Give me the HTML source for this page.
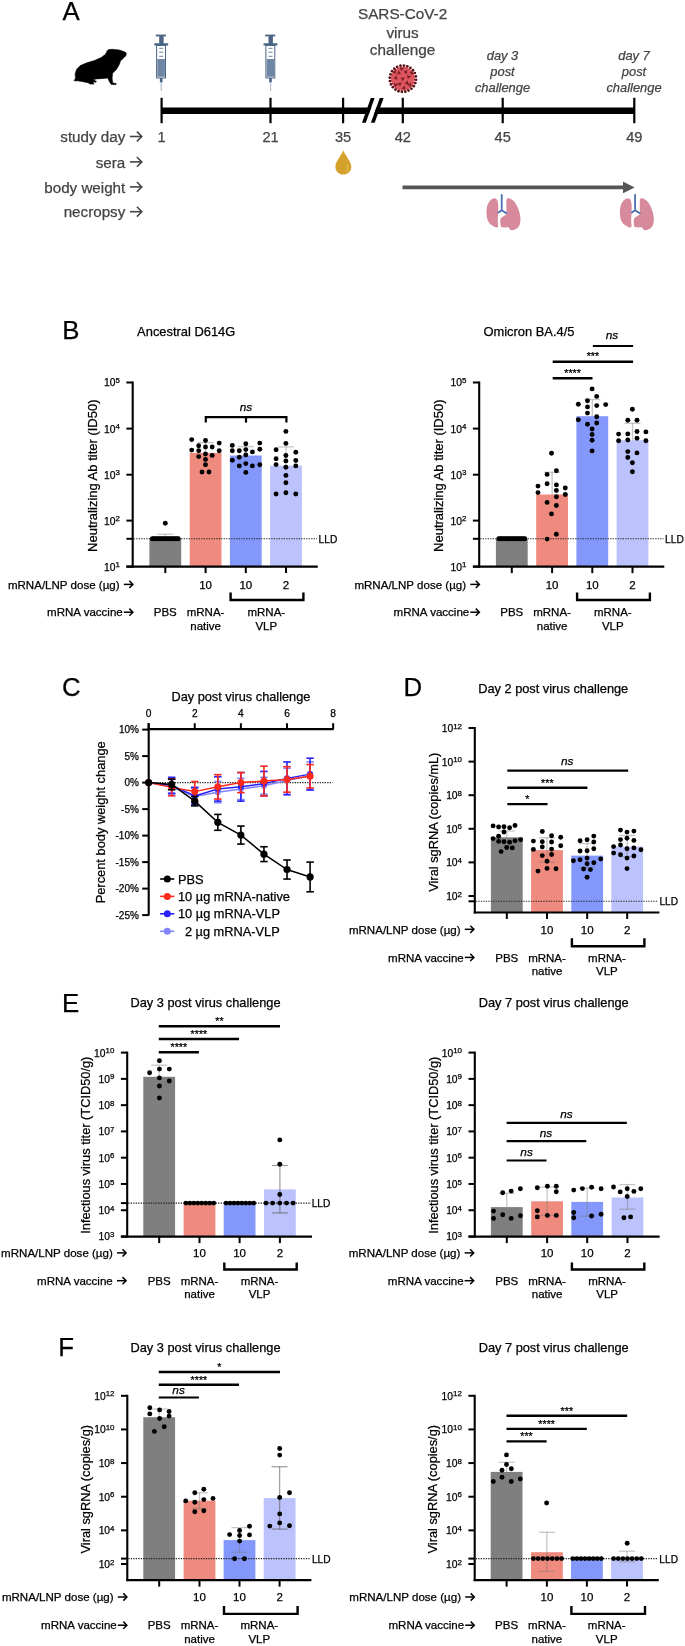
<!DOCTYPE html><html><head><meta charset="utf-8"><style>html,body{margin:0;padding:0;background:#fff;}svg{display:block;will-change:transform;} text{stroke-width:0.25px;}</style></head><body>
<svg width="685" height="1646" viewBox="0 0 685 1646" font-family='"Liberation Sans", sans-serif'>
<rect width="685" height="1646" fill="#fff"/>
<text x="62.50" y="20.40" font-size="25.8" text-anchor="start" fill="#000" stroke="#000" >A</text>
<polygon points="74.2,80.6 75.6,78.0 75.1,74.2 76.5,69.4 80.3,65.6 87.0,62.8 94.6,60.4 101.2,57.6 105.5,54.2 107.4,50.4 108.8,49.5 112.6,49.3 119.2,50.0 124.9,51.9 126.3,53.3 125.9,55.7 124.0,57.6 122.1,59.4 120.7,60.4 119.2,64.7 116.4,69.4 112.6,73.2 112.1,78.0 112.6,82.7 116.4,83.8 115.9,84.6 111.2,84.4 109.7,82.2 107.8,78.0 104.1,78.4 96.5,78.9 92.7,79.8 96.5,81.3 95.5,82.2 92.7,81.7 94.1,84.1 90.3,84.1 87.9,82.7 83.2,81.7 77.5,80.8 74.6,81.0" fill="#000" stroke="#000" stroke-width="0.6" stroke-linejoin="round"/>
<g transform="translate(0.00,0)">
<rect x="155.8" y="34.6" width="10.2" height="1.8" fill="#4a6584"/>
<rect x="159.2" y="35.5" width="4.4" height="8.5" fill="#4a6584"/>
<rect x="154.2" y="43.3" width="14" height="2.3" rx="0.6" fill="#4a6584"/>
<rect x="156.6" y="45.5" width="8.9" height="32.5" fill="#fff" stroke="#4a6584" stroke-width="1"/>
<rect x="157.3" y="59" width="7.6" height="17.8" fill="#6f87a5"/>
<rect x="159.2" y="47.8" width="4" height="1" fill="#6f87a5"/>
<rect x="159.2" y="51.7" width="4" height="1" fill="#6f87a5"/>
<rect x="159.2" y="55.8" width="4" height="1" fill="#6f87a5"/>
<rect x="159.9" y="78" width="2.6" height="4.4" fill="#4a6584"/>
<rect x="160.6" y="82.3" width="1.3" height="8.7" fill="#b4c2d2"/>
</g>
<g transform="translate(109.30,0)">
<rect x="155.8" y="34.6" width="10.2" height="1.8" fill="#4a6584"/>
<rect x="159.2" y="35.5" width="4.4" height="8.5" fill="#4a6584"/>
<rect x="154.2" y="43.3" width="14" height="2.3" rx="0.6" fill="#4a6584"/>
<rect x="156.6" y="45.5" width="8.9" height="32.5" fill="#fff" stroke="#4a6584" stroke-width="1"/>
<rect x="157.3" y="59" width="7.6" height="17.8" fill="#6f87a5"/>
<rect x="159.2" y="47.8" width="4" height="1" fill="#6f87a5"/>
<rect x="159.2" y="51.7" width="4" height="1" fill="#6f87a5"/>
<rect x="159.2" y="55.8" width="4" height="1" fill="#6f87a5"/>
<rect x="159.9" y="78" width="2.6" height="4.4" fill="#4a6584"/>
<rect x="160.6" y="82.3" width="1.3" height="8.7" fill="#b4c2d2"/>
</g>
<line x1="161.30" y1="110.75" x2="634.30" y2="110.75" stroke="#000" stroke-width="6.3" />
<line x1="161.60" y1="97.80" x2="161.60" y2="123.20" stroke="#000" stroke-width="2.2" />
<line x1="270.50" y1="97.80" x2="270.50" y2="123.20" stroke="#000" stroke-width="2.2" />
<line x1="343.10" y1="97.80" x2="343.10" y2="123.20" stroke="#000" stroke-width="2.2" />
<line x1="402.80" y1="97.80" x2="402.80" y2="123.20" stroke="#000" stroke-width="2.2" />
<line x1="502.70" y1="97.80" x2="502.70" y2="123.20" stroke="#000" stroke-width="2.2" />
<line x1="634.30" y1="97.80" x2="634.30" y2="123.20" stroke="#000" stroke-width="2.2" />
<polygon points="365.8,122.7 370.9,122.7 379.8,98.1 374.6,98.1" fill="#fff"/>
<polygon points="362,122.7 365.8,122.7 374.6,98.1 370.8,98.1" fill="#000"/>
<polygon points="370.9,122.7 374.7,122.7 383.6,98.1 379.8,98.1" fill="#000"/>
<text x="161.60" y="141.90" font-size="14.6" text-anchor="middle" fill="#444" stroke="#444" >1</text>
<text x="270.50" y="141.90" font-size="14.6" text-anchor="middle" fill="#444" stroke="#444" >21</text>
<text x="343.10" y="141.90" font-size="14.6" text-anchor="middle" fill="#444" stroke="#444" >35</text>
<text x="402.80" y="141.90" font-size="14.6" text-anchor="middle" fill="#444" stroke="#444" >42</text>
<text x="502.70" y="141.90" font-size="14.6" text-anchor="middle" fill="#444" stroke="#444" >45</text>
<text x="634.30" y="141.90" font-size="14.6" text-anchor="middle" fill="#444" stroke="#444" >49</text>
<text x="125.30" y="142.10" font-size="15.2" text-anchor="end" fill="#444" stroke="#444" >study day</text>
<line x1="129.90" y1="136.50" x2="141.30" y2="136.50" stroke="#444" stroke-width="1.6" />
<polyline points="136.90,131.60 141.80,136.50 136.90,141.40" fill="none" stroke="#444" stroke-width="1.6" stroke-linejoin="miter"/>
<text x="125.30" y="167.50" font-size="15.2" text-anchor="end" fill="#444" stroke="#444" >sera</text>
<line x1="129.90" y1="161.90" x2="141.30" y2="161.90" stroke="#444" stroke-width="1.6" />
<polyline points="136.90,157.00 141.80,161.90 136.90,166.80" fill="none" stroke="#444" stroke-width="1.6" stroke-linejoin="miter"/>
<text x="125.30" y="192.50" font-size="15.2" text-anchor="end" fill="#444" stroke="#444" >body weight</text>
<line x1="129.90" y1="186.90" x2="141.30" y2="186.90" stroke="#444" stroke-width="1.6" />
<polyline points="136.90,182.00 141.80,186.90 136.90,191.80" fill="none" stroke="#444" stroke-width="1.6" stroke-linejoin="miter"/>
<text x="125.30" y="217.30" font-size="15.2" text-anchor="end" fill="#444" stroke="#444" >necropsy</text>
<line x1="129.90" y1="211.70" x2="141.30" y2="211.70" stroke="#444" stroke-width="1.6" />
<polyline points="136.90,206.80 141.80,211.70 136.90,216.60" fill="none" stroke="#444" stroke-width="1.6" stroke-linejoin="miter"/>
<text x="402.60" y="19.40" font-size="15.3" text-anchor="middle" fill="#444" stroke="#444" >SARS-CoV-2</text>
<text x="402.60" y="37.60" font-size="15.3" text-anchor="middle" fill="#444" stroke="#444" >virus</text>
<text x="402.60" y="55.20" font-size="15.3" text-anchor="middle" fill="#444" stroke="#444" >challenge</text>
<text x="502.50" y="60.30" font-size="12.9" text-anchor="middle" fill="#444" stroke="#444" font-style="italic" >day 3</text>
<text x="502.50" y="76.00" font-size="12.9" text-anchor="middle" fill="#444" stroke="#444" font-style="italic" >post</text>
<text x="502.50" y="91.50" font-size="12.9" text-anchor="middle" fill="#444" stroke="#444" font-style="italic" >challenge</text>
<text x="634.00" y="60.30" font-size="12.9" text-anchor="middle" fill="#444" stroke="#444" font-style="italic" >day 7</text>
<text x="634.00" y="76.00" font-size="12.9" text-anchor="middle" fill="#444" stroke="#444" font-style="italic" >post</text>
<text x="634.00" y="91.50" font-size="12.9" text-anchor="middle" fill="#444" stroke="#444" font-style="italic" >challenge</text>
<circle cx="402.9" cy="78.7" r="12" fill="#e05660"/>
<line x1="414.07" y1="79.58" x2="415.86" y2="79.72" stroke="#7a2026" stroke-width="0.8"/><circle cx="416.06" cy="79.74" r="1.35" fill="#5a1014"/><line x1="413.46" y1="82.44" x2="415.15" y2="83.04" stroke="#7a2026" stroke-width="0.8"/><circle cx="415.34" cy="83.11" r="1.35" fill="#5a1014"/><line x1="412.13" y1="85.04" x2="413.61" y2="86.06" stroke="#7a2026" stroke-width="0.8"/><circle cx="413.78" cy="86.18" r="1.35" fill="#5a1014"/><line x1="410.17" y1="87.22" x2="411.34" y2="88.59" stroke="#7a2026" stroke-width="0.8"/><circle cx="411.47" cy="88.74" r="1.35" fill="#5a1014"/><line x1="407.72" y1="88.81" x2="408.50" y2="90.43" stroke="#7a2026" stroke-width="0.8"/><circle cx="408.58" cy="90.61" r="1.35" fill="#5a1014"/><line x1="404.94" y1="89.71" x2="405.27" y2="91.48" stroke="#7a2026" stroke-width="0.8"/><circle cx="405.31" cy="91.68" r="1.35" fill="#5a1014"/><line x1="402.02" y1="89.87" x2="401.88" y2="91.66" stroke="#7a2026" stroke-width="0.8"/><circle cx="401.86" cy="91.86" r="1.35" fill="#5a1014"/><line x1="399.16" y1="89.26" x2="398.56" y2="90.95" stroke="#7a2026" stroke-width="0.8"/><circle cx="398.49" cy="91.14" r="1.35" fill="#5a1014"/><line x1="396.56" y1="87.93" x2="395.54" y2="89.41" stroke="#7a2026" stroke-width="0.8"/><circle cx="395.42" cy="89.58" r="1.35" fill="#5a1014"/><line x1="394.38" y1="85.97" x2="393.01" y2="87.14" stroke="#7a2026" stroke-width="0.8"/><circle cx="392.86" cy="87.27" r="1.35" fill="#5a1014"/><line x1="392.79" y1="83.52" x2="391.17" y2="84.30" stroke="#7a2026" stroke-width="0.8"/><circle cx="390.99" cy="84.38" r="1.35" fill="#5a1014"/><line x1="391.89" y1="80.74" x2="390.12" y2="81.07" stroke="#7a2026" stroke-width="0.8"/><circle cx="389.92" cy="81.11" r="1.35" fill="#5a1014"/><line x1="391.73" y1="77.82" x2="389.94" y2="77.68" stroke="#7a2026" stroke-width="0.8"/><circle cx="389.74" cy="77.66" r="1.35" fill="#5a1014"/><line x1="392.34" y1="74.96" x2="390.65" y2="74.36" stroke="#7a2026" stroke-width="0.8"/><circle cx="390.46" cy="74.29" r="1.35" fill="#5a1014"/><line x1="393.67" y1="72.36" x2="392.19" y2="71.34" stroke="#7a2026" stroke-width="0.8"/><circle cx="392.02" cy="71.22" r="1.35" fill="#5a1014"/><line x1="395.63" y1="70.18" x2="394.46" y2="68.81" stroke="#7a2026" stroke-width="0.8"/><circle cx="394.33" cy="68.66" r="1.35" fill="#5a1014"/><line x1="398.08" y1="68.59" x2="397.30" y2="66.97" stroke="#7a2026" stroke-width="0.8"/><circle cx="397.22" cy="66.79" r="1.35" fill="#5a1014"/><line x1="400.86" y1="67.69" x2="400.53" y2="65.92" stroke="#7a2026" stroke-width="0.8"/><circle cx="400.49" cy="65.72" r="1.35" fill="#5a1014"/><line x1="403.78" y1="67.53" x2="403.92" y2="65.74" stroke="#7a2026" stroke-width="0.8"/><circle cx="403.94" cy="65.54" r="1.35" fill="#5a1014"/><line x1="406.64" y1="68.14" x2="407.24" y2="66.45" stroke="#7a2026" stroke-width="0.8"/><circle cx="407.31" cy="66.26" r="1.35" fill="#5a1014"/><line x1="409.24" y1="69.47" x2="410.26" y2="67.99" stroke="#7a2026" stroke-width="0.8"/><circle cx="410.38" cy="67.82" r="1.35" fill="#5a1014"/><line x1="411.42" y1="71.43" x2="412.79" y2="70.26" stroke="#7a2026" stroke-width="0.8"/><circle cx="412.94" cy="70.13" r="1.35" fill="#5a1014"/><line x1="413.01" y1="73.88" x2="414.63" y2="73.10" stroke="#7a2026" stroke-width="0.8"/><circle cx="414.81" cy="73.02" r="1.35" fill="#5a1014"/><line x1="413.91" y1="76.66" x2="415.68" y2="76.33" stroke="#7a2026" stroke-width="0.8"/><circle cx="415.88" cy="76.29" r="1.35" fill="#5a1014"/>
<polygon points="396.80,74.40 401.10,74.10 398.90,70.30" fill="#6e1a22" opacity="0.85" transform="rotate(0 398.90 72.70)"/>
<polygon points="403.80,73.40 408.10,73.10 405.90,69.30" fill="#6e1a22" opacity="0.85" transform="rotate(40 405.90 71.70)"/>
<polygon points="406.80,78.40 411.10,78.10 408.90,74.30" fill="#6e1a22" opacity="0.85" transform="rotate(80 408.90 76.70)"/>
<polygon points="393.80,79.40 398.10,79.10 395.90,75.30" fill="#6e1a22" opacity="0.85" transform="rotate(20 395.90 77.70)"/>
<polygon points="400.80,80.40 405.10,80.10 402.90,76.30" fill="#6e1a22" opacity="0.85" transform="rotate(60 402.90 78.70)"/>
<polygon points="404.80,84.40 409.10,84.10 406.90,80.30" fill="#6e1a22" opacity="0.85" transform="rotate(10 406.90 82.70)"/>
<polygon points="397.80,85.40 402.10,85.10 399.90,81.30" fill="#6e1a22" opacity="0.85" transform="rotate(50 399.90 83.70)"/>
<polygon points="407.80,86.40 412.10,86.10 409.90,82.30" fill="#6e1a22" opacity="0.85" transform="rotate(30 409.90 84.70)"/>
<polygon points="393.80,86.40 398.10,86.10 395.90,82.30" fill="#6e1a22" opacity="0.85" transform="rotate(70 395.90 84.70)"/>
<polygon points="401.80,89.40 406.10,89.10 403.90,85.30" fill="#6e1a22" opacity="0.85" transform="rotate(15 403.90 87.70)"/>
<polygon points="409.80,74.40 414.10,74.10 411.90,70.30" fill="#6e1a22" opacity="0.85" transform="rotate(45 411.90 72.70)"/>
<polygon points="392.80,73.40 397.10,73.10 394.90,69.30" fill="#6e1a22" opacity="0.85" transform="rotate(25 394.90 71.70)"/>
<polygon points="399.80,70.40 404.10,70.10 401.90,66.30" fill="#6e1a22" opacity="0.85" transform="rotate(65 401.90 68.70)"/>
<path d="M343.3,150.2 C345.5,156 351.3,161.5 351.3,166.8 C351.3,171.5 347.6,174.6 343.3,174.6 C339,174.6 335.4,171.5 335.4,166.8 C335.4,161.5 341.1,156 343.3,150.2 Z" fill="#d4a22a"/>
<path d="M347.5,165 C348.3,167.5 347.6,170.5 345.6,172" stroke="#f0d080" stroke-width="0.9" fill="none" opacity="0.8"/>
<line x1="402.50" y1="187.40" x2="624.00" y2="187.40" stroke="#555" stroke-width="3.7" />
<polygon points="623,181.5 634.6,187.4 623,193.2" fill="#555"/>
<g transform="translate(0.00,0)">
<path d="M494.9,198.3 C496.5,198.6 497.6,200 498,203 C498.6,208 498.2,213 497.8,218.2 C497.6,222 498.3,225 498.1,226.8 C497.6,227.8 496.6,227.6 496.1,227.4 C493,226.4 490.4,224.8 488.6,222 C486.6,219 486.3,214 486.6,209.4 C487,204.8 489,200.8 492,199 C493,198.5 494,198.3 494.9,198.3 Z" fill="#d68a9b"/>
<path d="M507.8,198 C510.5,198.3 513,200 515,202.5 C517.6,206 519.4,211 520.2,216 C520.8,220.5 520.3,224 518.8,226.4 C516.8,229 513.6,230.4 511.4,230.2 C509.8,229.8 508.9,228.6 508.5,227 C506.8,227.3 503,228 501,226.8 C500.2,224 500,220.6 500.6,218.7 C502.2,216.6 504.8,215.3 506.6,214.4 C506.4,210 506.2,205 506.4,201.5 C506.6,199.4 507,198.4 507.8,198 Z" fill="#d68a9b"/>
<path d="M501.7,194.8 L501.7,210.3 M501.7,210.3 L498.4,212.5 M501.7,210.3 L506.4,213.3" stroke="#4a6fb0" stroke-width="1.8" fill="none" stroke-linecap="round"/>
</g>
<g transform="translate(133.40,0)">
<path d="M494.9,198.3 C496.5,198.6 497.6,200 498,203 C498.6,208 498.2,213 497.8,218.2 C497.6,222 498.3,225 498.1,226.8 C497.6,227.8 496.6,227.6 496.1,227.4 C493,226.4 490.4,224.8 488.6,222 C486.6,219 486.3,214 486.6,209.4 C487,204.8 489,200.8 492,199 C493,198.5 494,198.3 494.9,198.3 Z" fill="#d68a9b"/>
<path d="M507.8,198 C510.5,198.3 513,200 515,202.5 C517.6,206 519.4,211 520.2,216 C520.8,220.5 520.3,224 518.8,226.4 C516.8,229 513.6,230.4 511.4,230.2 C509.8,229.8 508.9,228.6 508.5,227 C506.8,227.3 503,228 501,226.8 C500.2,224 500,220.6 500.6,218.7 C502.2,216.6 504.8,215.3 506.6,214.4 C506.4,210 506.2,205 506.4,201.5 C506.6,199.4 507,198.4 507.8,198 Z" fill="#d68a9b"/>
<path d="M501.7,194.8 L501.7,210.3 M501.7,210.3 L498.4,212.5 M501.7,210.3 L506.4,213.3" stroke="#4a6fb0" stroke-width="1.8" fill="none" stroke-linecap="round"/>
</g>
<text x="62.30" y="338.60" font-size="25.8" text-anchor="start" fill="#000" stroke="#000" >B</text>
<text x="186.20" y="335.50" font-size="12.9" text-anchor="middle" fill="#000" stroke="#000" >Ancestral D614G</text>
<rect x="149.40" y="538.80" width="31.80" height="27.80" fill="#7f7f7f"/>
<rect x="189.70" y="452.90" width="31.80" height="113.70" fill="#ef8a7e"/>
<rect x="229.90" y="455.50" width="31.80" height="111.10" fill="#8398fa"/>
<rect x="270.10" y="465.70" width="31.80" height="100.90" fill="#bcc2fb"/>
<line x1="132.70" y1="381.50" x2="132.70" y2="567.60" stroke="#000" stroke-width="2.1" />
<line x1="126.40" y1="566.60" x2="317.80" y2="566.60" stroke="#000" stroke-width="2.1" />
<line x1="126.40" y1="382.50" x2="132.70" y2="382.50" stroke="#000" stroke-width="2.0" />
<text x="119.90" y="386.40" font-size="10.3" text-anchor="end" stroke="#000">10<tspan dy="-3.3" font-size="7.93">5</tspan></text>
<line x1="126.40" y1="428.60" x2="132.70" y2="428.60" stroke="#000" stroke-width="2.0" />
<text x="119.90" y="432.50" font-size="10.3" text-anchor="end" stroke="#000">10<tspan dy="-3.3" font-size="7.93">4</tspan></text>
<line x1="126.40" y1="474.70" x2="132.70" y2="474.70" stroke="#000" stroke-width="2.0" />
<text x="119.90" y="478.60" font-size="10.3" text-anchor="end" stroke="#000">10<tspan dy="-3.3" font-size="7.93">3</tspan></text>
<line x1="126.40" y1="520.60" x2="132.70" y2="520.60" stroke="#000" stroke-width="2.0" />
<text x="119.90" y="524.50" font-size="10.3" text-anchor="end" stroke="#000">10<tspan dy="-3.3" font-size="7.93">2</tspan></text>
<line x1="126.40" y1="566.60" x2="132.70" y2="566.60" stroke="#000" stroke-width="2.0" />
<text x="119.90" y="570.50" font-size="10.3" text-anchor="end" stroke="#000">10<tspan dy="-3.3" font-size="7.93">1</tspan></text>
<line x1="165.30" y1="566.60" x2="165.30" y2="573.10" stroke="#000" stroke-width="2.0" />
<line x1="205.60" y1="566.60" x2="205.60" y2="573.10" stroke="#000" stroke-width="2.0" />
<line x1="245.80" y1="566.60" x2="245.80" y2="573.10" stroke="#000" stroke-width="2.0" />
<line x1="286.00" y1="566.60" x2="286.00" y2="573.10" stroke="#000" stroke-width="2.0" />
<line x1="126.40" y1="538.80" x2="132.70" y2="538.80" stroke="#000" stroke-width="2.0" />
<line x1="133.70" y1="538.80" x2="317.00" y2="538.80" stroke="#222" stroke-width="1.1" stroke-dasharray="1.3,1.2"/>
<text x="318.60" y="542.90" font-size="10.2" text-anchor="start" fill="#000" stroke="#000" >LLD</text>
<text transform="translate(96.80,475.70) rotate(-90)" font-size="13.0" text-anchor="middle" stroke="#000">Neutralizing Ab titer (ID50)</text>
<line x1="165.30" y1="534.20" x2="165.30" y2="538.80" stroke="#7a7a7a" stroke-width="1.3"  stroke-opacity="0.42"/>
<line x1="157.30" y1="534.20" x2="173.30" y2="534.20" stroke="#7a7a7a" stroke-width="1.3"  stroke-opacity="0.42"/>
<line x1="205.60" y1="442.60" x2="205.60" y2="452.90" stroke="#7a7a7a" stroke-width="1.3"  stroke-opacity="0.42"/>
<line x1="197.60" y1="442.60" x2="213.60" y2="442.60" stroke="#7a7a7a" stroke-width="1.3"  stroke-opacity="0.42"/>
<line x1="245.80" y1="446.60" x2="245.80" y2="455.50" stroke="#7a7a7a" stroke-width="1.3"  stroke-opacity="0.42"/>
<line x1="237.80" y1="446.60" x2="253.80" y2="446.60" stroke="#7a7a7a" stroke-width="1.3"  stroke-opacity="0.42"/>
<line x1="286.00" y1="446.90" x2="286.00" y2="465.70" stroke="#7a7a7a" stroke-width="1.3"  stroke-opacity="0.42"/>
<line x1="278.00" y1="446.90" x2="294.00" y2="446.90" stroke="#7a7a7a" stroke-width="1.3"  stroke-opacity="0.42"/>
<circle cx="191.70" cy="439.60" r="2.45" fill="#000"/>
<circle cx="205.50" cy="440.50" r="2.45" fill="#000"/>
<circle cx="219.20" cy="443.10" r="2.45" fill="#000"/>
<circle cx="198.70" cy="445.80" r="2.45" fill="#000"/>
<circle cx="205.50" cy="447.00" r="2.45" fill="#000"/>
<circle cx="212.20" cy="447.00" r="2.45" fill="#000"/>
<circle cx="191.70" cy="450.10" r="2.45" fill="#000"/>
<circle cx="198.70" cy="450.70" r="2.45" fill="#000"/>
<circle cx="219.20" cy="450.70" r="2.45" fill="#000"/>
<circle cx="205.50" cy="454.00" r="2.45" fill="#000"/>
<circle cx="198.70" cy="456.60" r="2.45" fill="#000"/>
<circle cx="212.20" cy="455.40" r="2.45" fill="#000"/>
<circle cx="205.50" cy="459.40" r="2.45" fill="#000"/>
<circle cx="205.50" cy="464.70" r="2.45" fill="#000"/>
<circle cx="202.00" cy="472.00" r="2.45" fill="#000"/>
<circle cx="209.00" cy="472.00" r="2.45" fill="#000"/>
<circle cx="245.80" cy="443.70" r="2.45" fill="#000"/>
<circle cx="259.80" cy="443.10" r="2.45" fill="#000"/>
<circle cx="232.30" cy="445.40" r="2.45" fill="#000"/>
<circle cx="232.30" cy="450.70" r="2.45" fill="#000"/>
<circle cx="239.30" cy="450.70" r="2.45" fill="#000"/>
<circle cx="245.80" cy="449.60" r="2.45" fill="#000"/>
<circle cx="252.40" cy="451.90" r="2.45" fill="#000"/>
<circle cx="259.80" cy="449.30" r="2.45" fill="#000"/>
<circle cx="245.80" cy="455.00" r="2.45" fill="#000"/>
<circle cx="239.30" cy="457.20" r="2.45" fill="#000"/>
<circle cx="232.30" cy="460.30" r="2.45" fill="#000"/>
<circle cx="245.80" cy="463.60" r="2.45" fill="#000"/>
<circle cx="239.30" cy="465.90" r="2.45" fill="#000"/>
<circle cx="252.40" cy="465.90" r="2.45" fill="#000"/>
<circle cx="259.80" cy="464.70" r="2.45" fill="#000"/>
<circle cx="245.80" cy="472.40" r="2.45" fill="#000"/>
<circle cx="285.90" cy="431.40" r="2.45" fill="#000"/>
<circle cx="285.90" cy="443.40" r="2.45" fill="#000"/>
<circle cx="276.10" cy="449.70" r="2.45" fill="#000"/>
<circle cx="295.80" cy="452.20" r="2.45" fill="#000"/>
<circle cx="285.90" cy="455.50" r="2.45" fill="#000"/>
<circle cx="276.10" cy="458.70" r="2.45" fill="#000"/>
<circle cx="285.90" cy="460.90" r="2.45" fill="#000"/>
<circle cx="295.80" cy="460.50" r="2.45" fill="#000"/>
<circle cx="276.10" cy="464.60" r="2.45" fill="#000"/>
<circle cx="295.80" cy="465.90" r="2.45" fill="#000"/>
<circle cx="285.90" cy="467.30" r="2.45" fill="#000"/>
<circle cx="285.90" cy="475.40" r="2.45" fill="#000"/>
<circle cx="285.90" cy="482.70" r="2.45" fill="#000"/>
<circle cx="276.10" cy="494.00" r="2.45" fill="#000"/>
<circle cx="285.90" cy="492.70" r="2.45" fill="#000"/>
<circle cx="295.80" cy="494.00" r="2.45" fill="#000"/>
<circle cx="152.30" cy="538.80" r="2.45" fill="#000"/>
<circle cx="153.83" cy="538.80" r="2.45" fill="#000"/>
<circle cx="155.36" cy="538.80" r="2.45" fill="#000"/>
<circle cx="156.89" cy="538.80" r="2.45" fill="#000"/>
<circle cx="158.42" cy="538.80" r="2.45" fill="#000"/>
<circle cx="159.95" cy="538.80" r="2.45" fill="#000"/>
<circle cx="161.48" cy="538.80" r="2.45" fill="#000"/>
<circle cx="163.01" cy="538.80" r="2.45" fill="#000"/>
<circle cx="164.54" cy="538.80" r="2.45" fill="#000"/>
<circle cx="166.07" cy="538.80" r="2.45" fill="#000"/>
<circle cx="167.60" cy="538.80" r="2.45" fill="#000"/>
<circle cx="169.13" cy="538.80" r="2.45" fill="#000"/>
<circle cx="170.66" cy="538.80" r="2.45" fill="#000"/>
<circle cx="172.19" cy="538.80" r="2.45" fill="#000"/>
<circle cx="173.72" cy="538.80" r="2.45" fill="#000"/>
<circle cx="175.25" cy="538.80" r="2.45" fill="#000"/>
<circle cx="176.78" cy="538.80" r="2.45" fill="#000"/>
<circle cx="178.31" cy="538.80" r="2.45" fill="#000"/>
<circle cx="165.30" cy="523.30" r="2.45" fill="#000"/>
<text x="119.60" y="588.60" font-size="11.55" text-anchor="end" fill="#000" stroke="#000" >mRNA/LNP dose (µg)</text>
<line x1="123.80" y1="584.40" x2="132.40" y2="584.40" stroke="#000" stroke-width="1.5" />
<polyline points="129.30,580.80 132.90,584.40 129.30,588.00" fill="none" stroke="#000" stroke-width="1.5" stroke-linejoin="miter"/>
<text x="205.60" y="588.60" font-size="11.5" text-anchor="middle" fill="#000" stroke="#000" >10</text>
<text x="245.80" y="588.60" font-size="11.5" text-anchor="middle" fill="#000" stroke="#000" >10</text>
<text x="286.00" y="588.60" font-size="11.5" text-anchor="middle" fill="#000" stroke="#000" >2</text>
<polyline points="230.60,592.40 230.60,600.00 303.40,600.00 303.40,592.40" fill="none" stroke="#000" stroke-width="2.4" stroke-linejoin="miter"/>
<text x="122.80" y="616.40" font-size="11.55" text-anchor="end" fill="#000" stroke="#000" >mRNA vaccine</text>
<line x1="123.80" y1="612.20" x2="132.40" y2="612.20" stroke="#000" stroke-width="1.5" />
<polyline points="129.30,608.60 132.90,612.20 129.30,615.80" fill="none" stroke="#000" stroke-width="1.5" stroke-linejoin="miter"/>
<text x="165.30" y="616.40" font-size="11.5" text-anchor="middle" fill="#000" stroke="#000" >PBS</text>
<text x="205.60" y="616.40" font-size="11.5" text-anchor="middle" fill="#000" stroke="#000" >mRNA-</text>
<text x="205.60" y="629.70" font-size="11.5" text-anchor="middle" fill="#000" stroke="#000" >native</text>
<text x="266.30" y="616.40" font-size="11.5" text-anchor="middle" fill="#000" stroke="#000" >mRNA-</text>
<text x="266.30" y="629.70" font-size="11.5" text-anchor="middle" fill="#000" stroke="#000" >VLP</text>
<polyline points="205.80,422.60 205.80,417.10 286.40,417.10 286.40,422.60" fill="none" stroke="#000" stroke-width="2.2" />
<line x1="246.00" y1="417.10" x2="246.00" y2="422.60" stroke="#000" stroke-width="2.2" />
<text x="246.00" y="410.60" font-size="11.8" text-anchor="middle" fill="#000" stroke="#000" font-style="italic" >ns</text>
<text x="528.90" y="335.50" font-size="12.9" text-anchor="middle" fill="#000" stroke="#000" >Omicron BA.4/5</text>
<rect x="495.90" y="538.80" width="31.80" height="27.80" fill="#7f7f7f"/>
<rect x="536.20" y="494.50" width="31.80" height="72.10" fill="#ef8a7e"/>
<rect x="576.40" y="416.20" width="31.80" height="150.40" fill="#8398fa"/>
<rect x="616.60" y="440.20" width="31.80" height="126.40" fill="#bcc2fb"/>
<line x1="479.20" y1="381.50" x2="479.20" y2="567.60" stroke="#000" stroke-width="2.1" />
<line x1="472.90" y1="566.60" x2="664.30" y2="566.60" stroke="#000" stroke-width="2.1" />
<line x1="472.90" y1="382.50" x2="479.20" y2="382.50" stroke="#000" stroke-width="2.0" />
<text x="466.40" y="386.40" font-size="10.3" text-anchor="end" stroke="#000">10<tspan dy="-3.3" font-size="7.93">5</tspan></text>
<line x1="472.90" y1="428.60" x2="479.20" y2="428.60" stroke="#000" stroke-width="2.0" />
<text x="466.40" y="432.50" font-size="10.3" text-anchor="end" stroke="#000">10<tspan dy="-3.3" font-size="7.93">4</tspan></text>
<line x1="472.90" y1="474.70" x2="479.20" y2="474.70" stroke="#000" stroke-width="2.0" />
<text x="466.40" y="478.60" font-size="10.3" text-anchor="end" stroke="#000">10<tspan dy="-3.3" font-size="7.93">3</tspan></text>
<line x1="472.90" y1="520.60" x2="479.20" y2="520.60" stroke="#000" stroke-width="2.0" />
<text x="466.40" y="524.50" font-size="10.3" text-anchor="end" stroke="#000">10<tspan dy="-3.3" font-size="7.93">2</tspan></text>
<line x1="472.90" y1="566.60" x2="479.20" y2="566.60" stroke="#000" stroke-width="2.0" />
<text x="466.40" y="570.50" font-size="10.3" text-anchor="end" stroke="#000">10<tspan dy="-3.3" font-size="7.93">1</tspan></text>
<line x1="511.80" y1="566.60" x2="511.80" y2="573.10" stroke="#000" stroke-width="2.0" />
<line x1="552.10" y1="566.60" x2="552.10" y2="573.10" stroke="#000" stroke-width="2.0" />
<line x1="592.30" y1="566.60" x2="592.30" y2="573.10" stroke="#000" stroke-width="2.0" />
<line x1="632.50" y1="566.60" x2="632.50" y2="573.10" stroke="#000" stroke-width="2.0" />
<line x1="472.90" y1="538.80" x2="479.20" y2="538.80" stroke="#000" stroke-width="2.0" />
<line x1="480.20" y1="538.80" x2="663.50" y2="538.80" stroke="#222" stroke-width="1.1" stroke-dasharray="1.3,1.2"/>
<text x="665.10" y="542.90" font-size="10.2" text-anchor="start" fill="#000" stroke="#000" >LLD</text>
<text transform="translate(443.30,475.70) rotate(-90)" font-size="13.0" text-anchor="middle" stroke="#000">Neutralizing Ab titer (ID50)</text>
<line x1="552.10" y1="472.30" x2="552.10" y2="494.50" stroke="#7a7a7a" stroke-width="1.3"  stroke-opacity="0.42"/>
<line x1="544.10" y1="472.30" x2="560.10" y2="472.30" stroke="#7a7a7a" stroke-width="1.3"  stroke-opacity="0.42"/>
<line x1="592.30" y1="399.50" x2="592.30" y2="416.20" stroke="#7a7a7a" stroke-width="1.3"  stroke-opacity="0.42"/>
<line x1="584.30" y1="399.50" x2="600.30" y2="399.50" stroke="#7a7a7a" stroke-width="1.3"  stroke-opacity="0.42"/>
<line x1="632.50" y1="423.40" x2="632.50" y2="440.20" stroke="#7a7a7a" stroke-width="1.3"  stroke-opacity="0.42"/>
<line x1="624.50" y1="423.40" x2="640.50" y2="423.40" stroke="#7a7a7a" stroke-width="1.3"  stroke-opacity="0.42"/>
<circle cx="551.50" cy="453.20" r="2.45" fill="#000"/>
<circle cx="547.10" cy="474.40" r="2.45" fill="#000"/>
<circle cx="556.40" cy="470.70" r="2.45" fill="#000"/>
<circle cx="538.00" cy="486.10" r="2.45" fill="#000"/>
<circle cx="547.10" cy="483.80" r="2.45" fill="#000"/>
<circle cx="556.40" cy="484.90" r="2.45" fill="#000"/>
<circle cx="565.30" cy="488.00" r="2.45" fill="#000"/>
<circle cx="538.00" cy="492.60" r="2.45" fill="#000"/>
<circle cx="556.40" cy="490.50" r="2.45" fill="#000"/>
<circle cx="565.30" cy="494.50" r="2.45" fill="#000"/>
<circle cx="556.40" cy="496.80" r="2.45" fill="#000"/>
<circle cx="547.10" cy="502.40" r="2.45" fill="#000"/>
<circle cx="556.40" cy="505.50" r="2.45" fill="#000"/>
<circle cx="551.50" cy="513.90" r="2.45" fill="#000"/>
<circle cx="556.40" cy="534.20" r="2.45" fill="#000"/>
<circle cx="547.10" cy="539.10" r="2.45" fill="#000"/>
<circle cx="592.10" cy="388.90" r="2.45" fill="#000"/>
<circle cx="596.70" cy="396.40" r="2.45" fill="#000"/>
<circle cx="587.50" cy="400.80" r="2.45" fill="#000"/>
<circle cx="578.30" cy="404.30" r="2.45" fill="#000"/>
<circle cx="587.50" cy="406.90" r="2.45" fill="#000"/>
<circle cx="596.70" cy="405.60" r="2.45" fill="#000"/>
<circle cx="605.70" cy="404.60" r="2.45" fill="#000"/>
<circle cx="587.50" cy="413.10" r="2.45" fill="#000"/>
<circle cx="596.70" cy="416.80" r="2.45" fill="#000"/>
<circle cx="578.30" cy="419.80" r="2.45" fill="#000"/>
<circle cx="587.50" cy="424.30" r="2.45" fill="#000"/>
<circle cx="596.70" cy="423.00" r="2.45" fill="#000"/>
<circle cx="592.10" cy="429.00" r="2.45" fill="#000"/>
<circle cx="592.10" cy="434.50" r="2.45" fill="#000"/>
<circle cx="592.10" cy="440.20" r="2.45" fill="#000"/>
<circle cx="592.10" cy="450.90" r="2.45" fill="#000"/>
<circle cx="632.40" cy="409.20" r="2.45" fill="#000"/>
<circle cx="627.80" cy="420.30" r="2.45" fill="#000"/>
<circle cx="637.00" cy="420.30" r="2.45" fill="#000"/>
<circle cx="618.60" cy="434.10" r="2.45" fill="#000"/>
<circle cx="627.80" cy="433.90" r="2.45" fill="#000"/>
<circle cx="637.00" cy="431.50" r="2.45" fill="#000"/>
<circle cx="645.90" cy="431.90" r="2.45" fill="#000"/>
<circle cx="618.60" cy="440.80" r="2.45" fill="#000"/>
<circle cx="627.80" cy="440.00" r="2.45" fill="#000"/>
<circle cx="637.00" cy="438.20" r="2.45" fill="#000"/>
<circle cx="645.90" cy="440.70" r="2.45" fill="#000"/>
<circle cx="627.80" cy="451.60" r="2.45" fill="#000"/>
<circle cx="637.00" cy="452.90" r="2.45" fill="#000"/>
<circle cx="627.80" cy="457.50" r="2.45" fill="#000"/>
<circle cx="632.40" cy="462.80" r="2.45" fill="#000"/>
<circle cx="632.40" cy="471.70" r="2.45" fill="#000"/>
<circle cx="498.80" cy="538.80" r="2.45" fill="#000"/>
<circle cx="500.33" cy="538.80" r="2.45" fill="#000"/>
<circle cx="501.86" cy="538.80" r="2.45" fill="#000"/>
<circle cx="503.39" cy="538.80" r="2.45" fill="#000"/>
<circle cx="504.92" cy="538.80" r="2.45" fill="#000"/>
<circle cx="506.45" cy="538.80" r="2.45" fill="#000"/>
<circle cx="507.98" cy="538.80" r="2.45" fill="#000"/>
<circle cx="509.51" cy="538.80" r="2.45" fill="#000"/>
<circle cx="511.04" cy="538.80" r="2.45" fill="#000"/>
<circle cx="512.57" cy="538.80" r="2.45" fill="#000"/>
<circle cx="514.10" cy="538.80" r="2.45" fill="#000"/>
<circle cx="515.63" cy="538.80" r="2.45" fill="#000"/>
<circle cx="517.16" cy="538.80" r="2.45" fill="#000"/>
<circle cx="518.69" cy="538.80" r="2.45" fill="#000"/>
<circle cx="520.22" cy="538.80" r="2.45" fill="#000"/>
<circle cx="521.75" cy="538.80" r="2.45" fill="#000"/>
<circle cx="523.28" cy="538.80" r="2.45" fill="#000"/>
<circle cx="524.81" cy="538.80" r="2.45" fill="#000"/>
<text x="466.10" y="588.60" font-size="11.55" text-anchor="end" fill="#000" stroke="#000" >mRNA/LNP dose (µg)</text>
<line x1="470.30" y1="584.40" x2="478.90" y2="584.40" stroke="#000" stroke-width="1.5" />
<polyline points="475.80,580.80 479.40,584.40 475.80,588.00" fill="none" stroke="#000" stroke-width="1.5" stroke-linejoin="miter"/>
<text x="552.10" y="588.60" font-size="11.5" text-anchor="middle" fill="#000" stroke="#000" >10</text>
<text x="592.30" y="588.60" font-size="11.5" text-anchor="middle" fill="#000" stroke="#000" >10</text>
<text x="632.50" y="588.60" font-size="11.5" text-anchor="middle" fill="#000" stroke="#000" >2</text>
<polyline points="577.10,592.40 577.10,600.00 649.90,600.00 649.90,592.40" fill="none" stroke="#000" stroke-width="2.4" stroke-linejoin="miter"/>
<text x="469.30" y="616.40" font-size="11.55" text-anchor="end" fill="#000" stroke="#000" >mRNA vaccine</text>
<line x1="470.30" y1="612.20" x2="478.90" y2="612.20" stroke="#000" stroke-width="1.5" />
<polyline points="475.80,608.60 479.40,612.20 475.80,615.80" fill="none" stroke="#000" stroke-width="1.5" stroke-linejoin="miter"/>
<text x="511.80" y="616.40" font-size="11.5" text-anchor="middle" fill="#000" stroke="#000" >PBS</text>
<text x="552.10" y="616.40" font-size="11.5" text-anchor="middle" fill="#000" stroke="#000" >mRNA-</text>
<text x="552.10" y="629.70" font-size="11.5" text-anchor="middle" fill="#000" stroke="#000" >native</text>
<text x="612.80" y="616.40" font-size="11.5" text-anchor="middle" fill="#000" stroke="#000" >mRNA-</text>
<text x="612.80" y="629.70" font-size="11.5" text-anchor="middle" fill="#000" stroke="#000" >VLP</text>
<line x1="552.70" y1="378.30" x2="592.50" y2="378.30" stroke="#000" stroke-width="2.4" />
<text x="572.60" y="377.20" font-size="10.7" text-anchor="middle" fill="#000" stroke="#000" >****</text>
<line x1="552.70" y1="361.80" x2="633.10" y2="361.80" stroke="#000" stroke-width="2.4" />
<text x="592.90" y="360.40" font-size="10.7" text-anchor="middle" fill="#000" stroke="#000" >***</text>
<line x1="592.90" y1="346.00" x2="633.10" y2="346.00" stroke="#000" stroke-width="2.2" />
<text x="612.00" y="338.70" font-size="11.8" text-anchor="middle" fill="#000" stroke="#000" font-style="italic" >ns</text>
<text x="61.90" y="696.20" font-size="25.8" text-anchor="start" fill="#000" stroke="#000" >C</text>
<text x="240.90" y="700.60" font-size="12.75" text-anchor="middle" fill="#000" stroke="#000" >Day post virus challenge</text>
<line x1="147.60" y1="729.10" x2="333.60" y2="729.10" stroke="#000" stroke-width="2.1" />
<line x1="148.60" y1="729.10" x2="148.60" y2="723.20" stroke="#000" stroke-width="2.0" />
<text x="148.60" y="716.60" font-size="10.2" text-anchor="middle" fill="#000" stroke="#000" >0</text>
<line x1="194.74" y1="729.10" x2="194.74" y2="723.20" stroke="#000" stroke-width="2.0" />
<text x="194.74" y="716.60" font-size="10.2" text-anchor="middle" fill="#000" stroke="#000" >2</text>
<line x1="240.88" y1="729.10" x2="240.88" y2="723.20" stroke="#000" stroke-width="2.0" />
<text x="240.88" y="716.60" font-size="10.2" text-anchor="middle" fill="#000" stroke="#000" >4</text>
<line x1="287.02" y1="729.10" x2="287.02" y2="723.20" stroke="#000" stroke-width="2.0" />
<text x="287.02" y="716.60" font-size="10.2" text-anchor="middle" fill="#000" stroke="#000" >6</text>
<line x1="333.16" y1="729.10" x2="333.16" y2="723.20" stroke="#000" stroke-width="2.0" />
<text x="333.16" y="716.60" font-size="10.2" text-anchor="middle" fill="#000" stroke="#000" >8</text>
<line x1="148.70" y1="723.20" x2="148.70" y2="915.60" stroke="#000" stroke-width="2.1" />
<line x1="142.20" y1="729.60" x2="148.70" y2="729.60" stroke="#000" stroke-width="2.0" />
<text x="138.90" y="733.20" font-size="10.0" text-anchor="end" fill="#000" stroke="#000" >10%</text>
<line x1="142.20" y1="756.10" x2="148.70" y2="756.10" stroke="#000" stroke-width="2.0" />
<text x="138.90" y="759.70" font-size="10.0" text-anchor="end" fill="#000" stroke="#000" >5%</text>
<line x1="142.20" y1="782.60" x2="148.70" y2="782.60" stroke="#000" stroke-width="2.0" />
<text x="138.90" y="786.20" font-size="10.0" text-anchor="end" fill="#000" stroke="#000" >0%</text>
<line x1="142.20" y1="809.10" x2="148.70" y2="809.10" stroke="#000" stroke-width="2.0" />
<text x="138.90" y="812.70" font-size="10.0" text-anchor="end" fill="#000" stroke="#000" >-5%</text>
<line x1="142.20" y1="835.60" x2="148.70" y2="835.60" stroke="#000" stroke-width="2.0" />
<text x="138.90" y="839.20" font-size="10.0" text-anchor="end" fill="#000" stroke="#000" >-10%</text>
<line x1="142.20" y1="862.10" x2="148.70" y2="862.10" stroke="#000" stroke-width="2.0" />
<text x="138.90" y="865.70" font-size="10.0" text-anchor="end" fill="#000" stroke="#000" >-15%</text>
<line x1="142.20" y1="888.60" x2="148.70" y2="888.60" stroke="#000" stroke-width="2.0" />
<text x="138.90" y="892.20" font-size="10.0" text-anchor="end" fill="#000" stroke="#000" >-20%</text>
<line x1="142.20" y1="915.10" x2="148.70" y2="915.10" stroke="#000" stroke-width="2.0" />
<text x="138.90" y="918.70" font-size="10.0" text-anchor="end" fill="#000" stroke="#000" >-25%</text>
<line x1="149.70" y1="782.60" x2="332.60" y2="782.60" stroke="#222" stroke-width="1.1" stroke-dasharray="1.3,1.2"/>
<text transform="translate(105.30,822.30) rotate(-90)" font-size="12.85" text-anchor="middle" stroke="#000">Percent body weight change</text>
<line x1="171.67" y1="779.42" x2="171.67" y2="794.26" stroke="#8585fb" stroke-width="1.6" />
<line x1="167.92" y1="779.42" x2="175.42" y2="779.42" stroke="#8585fb" stroke-width="1.6" />
<line x1="167.92" y1="794.26" x2="175.42" y2="794.26" stroke="#8585fb" stroke-width="1.6" />
<line x1="194.74" y1="788.43" x2="194.74" y2="804.33" stroke="#8585fb" stroke-width="1.6" />
<line x1="190.99" y1="788.43" x2="198.49" y2="788.43" stroke="#8585fb" stroke-width="1.6" />
<line x1="190.99" y1="804.33" x2="198.49" y2="804.33" stroke="#8585fb" stroke-width="1.6" />
<line x1="217.81" y1="781.54" x2="217.81" y2="802.74" stroke="#8585fb" stroke-width="1.6" />
<line x1="214.06" y1="781.54" x2="221.56" y2="781.54" stroke="#8585fb" stroke-width="1.6" />
<line x1="214.06" y1="802.74" x2="221.56" y2="802.74" stroke="#8585fb" stroke-width="1.6" />
<line x1="240.88" y1="778.36" x2="240.88" y2="799.56" stroke="#8585fb" stroke-width="1.6" />
<line x1="237.13" y1="778.36" x2="244.63" y2="778.36" stroke="#8585fb" stroke-width="1.6" />
<line x1="237.13" y1="799.56" x2="244.63" y2="799.56" stroke="#8585fb" stroke-width="1.6" />
<line x1="263.95" y1="777.30" x2="263.95" y2="794.26" stroke="#8585fb" stroke-width="1.6" />
<line x1="260.20" y1="777.30" x2="267.70" y2="777.30" stroke="#8585fb" stroke-width="1.6" />
<line x1="260.20" y1="794.26" x2="267.70" y2="794.26" stroke="#8585fb" stroke-width="1.6" />
<line x1="287.02" y1="768.29" x2="287.02" y2="792.67" stroke="#8585fb" stroke-width="1.6" />
<line x1="283.27" y1="768.29" x2="290.77" y2="768.29" stroke="#8585fb" stroke-width="1.6" />
<line x1="283.27" y1="792.67" x2="290.77" y2="792.67" stroke="#8585fb" stroke-width="1.6" />
<line x1="310.09" y1="761.93" x2="310.09" y2="789.49" stroke="#8585fb" stroke-width="1.6" />
<line x1="306.34" y1="761.93" x2="313.84" y2="761.93" stroke="#8585fb" stroke-width="1.6" />
<line x1="306.34" y1="789.49" x2="313.84" y2="789.49" stroke="#8585fb" stroke-width="1.6" />
<polyline points="148.60,782.60 171.67,786.84 194.74,796.38 217.81,792.14 240.88,788.96 263.95,785.78 287.02,780.48 310.09,775.71" fill="none" stroke="#8585fb" stroke-width="1.5" />
<circle cx="148.60" cy="782.60" r="3.0" fill="#8585fb"/>
<circle cx="171.67" cy="786.84" r="3.0" fill="#8585fb"/>
<circle cx="194.74" cy="796.38" r="3.0" fill="#8585fb"/>
<circle cx="217.81" cy="792.14" r="3.0" fill="#8585fb"/>
<circle cx="240.88" cy="788.96" r="3.0" fill="#8585fb"/>
<circle cx="263.95" cy="785.78" r="3.0" fill="#8585fb"/>
<circle cx="287.02" cy="780.48" r="3.0" fill="#8585fb"/>
<circle cx="310.09" cy="775.71" r="3.0" fill="#8585fb"/>
<line x1="171.67" y1="777.30" x2="171.67" y2="793.20" stroke="#2a22fa" stroke-width="1.6" />
<line x1="167.92" y1="777.30" x2="175.42" y2="777.30" stroke="#2a22fa" stroke-width="1.6" />
<line x1="167.92" y1="793.20" x2="175.42" y2="793.20" stroke="#2a22fa" stroke-width="1.6" />
<line x1="194.74" y1="787.37" x2="194.74" y2="804.33" stroke="#2a22fa" stroke-width="1.6" />
<line x1="190.99" y1="787.37" x2="198.49" y2="787.37" stroke="#2a22fa" stroke-width="1.6" />
<line x1="190.99" y1="804.33" x2="198.49" y2="804.33" stroke="#2a22fa" stroke-width="1.6" />
<line x1="217.81" y1="776.77" x2="217.81" y2="801.15" stroke="#2a22fa" stroke-width="1.6" />
<line x1="214.06" y1="776.77" x2="221.56" y2="776.77" stroke="#2a22fa" stroke-width="1.6" />
<line x1="214.06" y1="801.15" x2="221.56" y2="801.15" stroke="#2a22fa" stroke-width="1.6" />
<line x1="240.88" y1="772.53" x2="240.88" y2="801.15" stroke="#2a22fa" stroke-width="1.6" />
<line x1="237.13" y1="772.53" x2="244.63" y2="772.53" stroke="#2a22fa" stroke-width="1.6" />
<line x1="237.13" y1="801.15" x2="244.63" y2="801.15" stroke="#2a22fa" stroke-width="1.6" />
<line x1="263.95" y1="771.47" x2="263.95" y2="795.85" stroke="#2a22fa" stroke-width="1.6" />
<line x1="260.20" y1="771.47" x2="267.70" y2="771.47" stroke="#2a22fa" stroke-width="1.6" />
<line x1="260.20" y1="795.85" x2="267.70" y2="795.85" stroke="#2a22fa" stroke-width="1.6" />
<line x1="287.02" y1="761.93" x2="287.02" y2="794.79" stroke="#2a22fa" stroke-width="1.6" />
<line x1="283.27" y1="761.93" x2="290.77" y2="761.93" stroke="#2a22fa" stroke-width="1.6" />
<line x1="283.27" y1="794.79" x2="290.77" y2="794.79" stroke="#2a22fa" stroke-width="1.6" />
<line x1="310.09" y1="758.22" x2="310.09" y2="790.02" stroke="#2a22fa" stroke-width="1.6" />
<line x1="306.34" y1="758.22" x2="313.84" y2="758.22" stroke="#2a22fa" stroke-width="1.6" />
<line x1="306.34" y1="790.02" x2="313.84" y2="790.02" stroke="#2a22fa" stroke-width="1.6" />
<polyline points="148.60,782.60 171.67,785.25 194.74,795.85 217.81,788.96 240.88,786.84 263.95,783.66 287.02,778.36 310.09,774.12" fill="none" stroke="#2a22fa" stroke-width="1.5" />
<circle cx="148.60" cy="782.60" r="3.0" fill="#2a22fa"/>
<circle cx="171.67" cy="785.25" r="3.0" fill="#2a22fa"/>
<circle cx="194.74" cy="795.85" r="3.0" fill="#2a22fa"/>
<circle cx="217.81" cy="788.96" r="3.0" fill="#2a22fa"/>
<circle cx="240.88" cy="786.84" r="3.0" fill="#2a22fa"/>
<circle cx="263.95" cy="783.66" r="3.0" fill="#2a22fa"/>
<circle cx="287.02" cy="778.36" r="3.0" fill="#2a22fa"/>
<circle cx="310.09" cy="774.12" r="3.0" fill="#2a22fa"/>
<line x1="171.67" y1="778.89" x2="171.67" y2="795.85" stroke="#fa2a1c" stroke-width="1.6" />
<line x1="167.92" y1="778.89" x2="175.42" y2="778.89" stroke="#fa2a1c" stroke-width="1.6" />
<line x1="167.92" y1="795.85" x2="175.42" y2="795.85" stroke="#fa2a1c" stroke-width="1.6" />
<line x1="194.74" y1="781.54" x2="194.74" y2="801.68" stroke="#fa2a1c" stroke-width="1.6" />
<line x1="190.99" y1="781.54" x2="198.49" y2="781.54" stroke="#fa2a1c" stroke-width="1.6" />
<line x1="190.99" y1="801.68" x2="198.49" y2="801.68" stroke="#fa2a1c" stroke-width="1.6" />
<line x1="217.81" y1="774.65" x2="217.81" y2="799.03" stroke="#fa2a1c" stroke-width="1.6" />
<line x1="214.06" y1="774.65" x2="221.56" y2="774.65" stroke="#fa2a1c" stroke-width="1.6" />
<line x1="214.06" y1="799.03" x2="221.56" y2="799.03" stroke="#fa2a1c" stroke-width="1.6" />
<line x1="240.88" y1="772.53" x2="240.88" y2="792.67" stroke="#fa2a1c" stroke-width="1.6" />
<line x1="237.13" y1="772.53" x2="244.63" y2="772.53" stroke="#fa2a1c" stroke-width="1.6" />
<line x1="237.13" y1="792.67" x2="244.63" y2="792.67" stroke="#fa2a1c" stroke-width="1.6" />
<line x1="263.95" y1="766.17" x2="263.95" y2="795.85" stroke="#fa2a1c" stroke-width="1.6" />
<line x1="260.20" y1="766.17" x2="267.70" y2="766.17" stroke="#fa2a1c" stroke-width="1.6" />
<line x1="260.20" y1="795.85" x2="267.70" y2="795.85" stroke="#fa2a1c" stroke-width="1.6" />
<line x1="287.02" y1="766.70" x2="287.02" y2="792.14" stroke="#fa2a1c" stroke-width="1.6" />
<line x1="283.27" y1="766.70" x2="290.77" y2="766.70" stroke="#fa2a1c" stroke-width="1.6" />
<line x1="283.27" y1="792.14" x2="290.77" y2="792.14" stroke="#fa2a1c" stroke-width="1.6" />
<line x1="310.09" y1="764.58" x2="310.09" y2="787.90" stroke="#fa2a1c" stroke-width="1.6" />
<line x1="306.34" y1="764.58" x2="313.84" y2="764.58" stroke="#fa2a1c" stroke-width="1.6" />
<line x1="306.34" y1="787.90" x2="313.84" y2="787.90" stroke="#fa2a1c" stroke-width="1.6" />
<polyline points="148.60,782.60 171.67,787.37 194.74,791.61 217.81,786.84 240.88,782.60 263.95,781.01 287.02,779.42 310.09,776.24" fill="none" stroke="#fa2a1c" stroke-width="1.5" />
<circle cx="148.60" cy="782.60" r="3.5" fill="#fa2a1c"/>
<circle cx="171.67" cy="787.37" r="3.5" fill="#fa2a1c"/>
<circle cx="194.74" cy="791.61" r="3.5" fill="#fa2a1c"/>
<circle cx="217.81" cy="786.84" r="3.5" fill="#fa2a1c"/>
<circle cx="240.88" cy="782.60" r="3.5" fill="#fa2a1c"/>
<circle cx="263.95" cy="781.01" r="3.5" fill="#fa2a1c"/>
<circle cx="287.02" cy="779.42" r="3.5" fill="#fa2a1c"/>
<circle cx="310.09" cy="776.24" r="3.5" fill="#fa2a1c"/>
<line x1="171.67" y1="779.15" x2="171.67" y2="789.75" stroke="#000" stroke-width="1.6" />
<line x1="167.92" y1="779.15" x2="175.42" y2="779.15" stroke="#000" stroke-width="1.6" />
<line x1="167.92" y1="789.75" x2="175.42" y2="789.75" stroke="#000" stroke-width="1.6" />
<line x1="194.74" y1="796.38" x2="194.74" y2="805.92" stroke="#000" stroke-width="1.6" />
<line x1="190.99" y1="796.38" x2="198.49" y2="796.38" stroke="#000" stroke-width="1.6" />
<line x1="190.99" y1="805.92" x2="198.49" y2="805.92" stroke="#000" stroke-width="1.6" />
<line x1="217.81" y1="814.40" x2="217.81" y2="830.30" stroke="#000" stroke-width="1.6" />
<line x1="214.06" y1="814.40" x2="221.56" y2="814.40" stroke="#000" stroke-width="1.6" />
<line x1="214.06" y1="830.30" x2="221.56" y2="830.30" stroke="#000" stroke-width="1.6" />
<line x1="240.88" y1="826.06" x2="240.88" y2="844.08" stroke="#000" stroke-width="1.6" />
<line x1="237.13" y1="826.06" x2="244.63" y2="826.06" stroke="#000" stroke-width="1.6" />
<line x1="237.13" y1="844.08" x2="244.63" y2="844.08" stroke="#000" stroke-width="1.6" />
<line x1="263.95" y1="846.73" x2="263.95" y2="861.57" stroke="#000" stroke-width="1.6" />
<line x1="260.20" y1="846.73" x2="267.70" y2="846.73" stroke="#000" stroke-width="1.6" />
<line x1="260.20" y1="861.57" x2="267.70" y2="861.57" stroke="#000" stroke-width="1.6" />
<line x1="287.02" y1="859.98" x2="287.02" y2="879.06" stroke="#000" stroke-width="1.6" />
<line x1="283.27" y1="859.98" x2="290.77" y2="859.98" stroke="#000" stroke-width="1.6" />
<line x1="283.27" y1="879.06" x2="290.77" y2="879.06" stroke="#000" stroke-width="1.6" />
<line x1="310.09" y1="862.10" x2="310.09" y2="891.78" stroke="#000" stroke-width="1.6" />
<line x1="306.34" y1="862.10" x2="313.84" y2="862.10" stroke="#000" stroke-width="1.6" />
<line x1="306.34" y1="891.78" x2="313.84" y2="891.78" stroke="#000" stroke-width="1.6" />
<polyline points="148.60,782.60 171.67,784.46 194.74,801.15 217.81,822.35 240.88,835.07 263.95,854.15 287.02,869.52 310.09,876.94" fill="none" stroke="#000" stroke-width="1.5" />
<circle cx="148.60" cy="782.60" r="3.6" fill="#000"/>
<circle cx="171.67" cy="784.46" r="3.6" fill="#000"/>
<circle cx="194.74" cy="801.15" r="3.6" fill="#000"/>
<circle cx="217.81" cy="822.35" r="3.6" fill="#000"/>
<circle cx="240.88" cy="835.07" r="3.6" fill="#000"/>
<circle cx="263.95" cy="854.15" r="3.6" fill="#000"/>
<circle cx="287.02" cy="869.52" r="3.6" fill="#000"/>
<circle cx="310.09" cy="876.94" r="3.6" fill="#000"/>
<line x1="160.10" y1="879.00" x2="174.30" y2="879.00" stroke="#000" stroke-width="1.6" />
<circle cx="167.30" cy="879.00" r="3.5" fill="#000"/>
<text x="178.00" y="883.50" font-size="12.8" text-anchor="start" fill="#000" stroke="#000" >PBS</text>
<line x1="160.10" y1="896.40" x2="174.30" y2="896.40" stroke="#fa2a1c" stroke-width="1.6" />
<circle cx="167.30" cy="896.40" r="3.5" fill="#fa2a1c"/>
<text x="178.00" y="900.90" font-size="12.8" text-anchor="start" fill="#000" stroke="#000" >10 µg mRNA-native</text>
<line x1="160.10" y1="913.80" x2="174.30" y2="913.80" stroke="#2a22fa" stroke-width="1.6" />
<circle cx="167.30" cy="913.80" r="3.5" fill="#2a22fa"/>
<text x="178.00" y="918.30" font-size="12.8" text-anchor="start" fill="#000" stroke="#000" >10 µg mRNA-VLP</text>
<line x1="160.10" y1="931.30" x2="174.30" y2="931.30" stroke="#8585fb" stroke-width="1.6" />
<circle cx="167.30" cy="931.30" r="3.5" fill="#8585fb"/>
<text x="184.90" y="935.80" font-size="12.8" text-anchor="start" fill="#000" stroke="#000" >2 µg mRNA-VLP</text>
<text x="403.40" y="696.40" font-size="25.8" text-anchor="start" fill="#000" stroke="#000" >D</text>
<text x="553.20" y="693.40" font-size="12.8" text-anchor="middle" fill="#000" stroke="#000" >Day 2 post virus challenge</text>
<rect x="490.90" y="837.30" width="31.80" height="75.20" fill="#7f7f7f"/>
<rect x="531.10" y="850.10" width="31.80" height="62.40" fill="#ef8a7e"/>
<rect x="571.30" y="855.60" width="31.80" height="56.90" fill="#8398fa"/>
<rect x="611.30" y="846.60" width="31.80" height="65.90" fill="#bcc2fb"/>
<line x1="474.80" y1="727.00" x2="474.80" y2="913.50" stroke="#000" stroke-width="2.1" />
<line x1="473.80" y1="912.50" x2="659.40" y2="912.50" stroke="#000" stroke-width="2.1" />
<line x1="468.50" y1="728.00" x2="474.80" y2="728.00" stroke="#000" stroke-width="2.0" />
<text x="462.00" y="731.90" font-size="10.3" text-anchor="end" stroke="#000">10<tspan dy="-3.3" font-size="7.93">12</tspan></text>
<line x1="468.50" y1="761.60" x2="474.80" y2="761.60" stroke="#000" stroke-width="2.0" />
<text x="462.00" y="765.50" font-size="10.3" text-anchor="end" stroke="#000">10<tspan dy="-3.3" font-size="7.93">10</tspan></text>
<line x1="468.50" y1="795.20" x2="474.80" y2="795.20" stroke="#000" stroke-width="2.0" />
<text x="462.00" y="799.10" font-size="10.3" text-anchor="end" stroke="#000">10<tspan dy="-3.3" font-size="7.93">8</tspan></text>
<line x1="468.50" y1="828.80" x2="474.80" y2="828.80" stroke="#000" stroke-width="2.0" />
<text x="462.00" y="832.70" font-size="10.3" text-anchor="end" stroke="#000">10<tspan dy="-3.3" font-size="7.93">6</tspan></text>
<line x1="468.50" y1="862.40" x2="474.80" y2="862.40" stroke="#000" stroke-width="2.0" />
<text x="462.00" y="866.30" font-size="10.3" text-anchor="end" stroke="#000">10<tspan dy="-3.3" font-size="7.93">4</tspan></text>
<line x1="468.50" y1="896.00" x2="474.80" y2="896.00" stroke="#000" stroke-width="2.0" />
<text x="462.00" y="899.90" font-size="10.3" text-anchor="end" stroke="#000">10<tspan dy="-3.3" font-size="7.93">2</tspan></text>
<line x1="506.80" y1="912.50" x2="506.80" y2="919.00" stroke="#000" stroke-width="2.0" />
<line x1="547.00" y1="912.50" x2="547.00" y2="919.00" stroke="#000" stroke-width="2.0" />
<line x1="587.20" y1="912.50" x2="587.20" y2="919.00" stroke="#000" stroke-width="2.0" />
<line x1="627.20" y1="912.50" x2="627.20" y2="919.00" stroke="#000" stroke-width="2.0" />
<line x1="468.50" y1="901.30" x2="474.80" y2="901.30" stroke="#000" stroke-width="2.0" />
<line x1="475.80" y1="901.30" x2="658.00" y2="901.30" stroke="#222" stroke-width="1.1" stroke-dasharray="1.3,1.2"/>
<text x="659.40" y="904.90" font-size="10.2" text-anchor="start" fill="#000" stroke="#000" >LLD</text>
<text transform="translate(438.00,822.20) rotate(-90)" font-size="12.8" text-anchor="middle" stroke="#000">Viral sgRNA (copies/mL)</text>
<line x1="506.80" y1="831.00" x2="506.80" y2="837.30" stroke="#7a7a7a" stroke-width="1.3"  stroke-opacity="0.42"/>
<line x1="498.80" y1="831.00" x2="514.80" y2="831.00" stroke="#7a7a7a" stroke-width="1.3"  stroke-opacity="0.42"/>
<line x1="547.00" y1="837.70" x2="547.00" y2="862.20" stroke="#7a7a7a" stroke-width="1.3"  stroke-opacity="0.42"/>
<line x1="539.00" y1="837.70" x2="555.00" y2="837.70" stroke="#7a7a7a" stroke-width="1.3"  stroke-opacity="0.42"/>
<line x1="539.00" y1="862.20" x2="555.00" y2="862.20" stroke="#7a7a7a" stroke-width="1.3"  stroke-opacity="0.42"/>
<line x1="587.20" y1="843.50" x2="587.20" y2="867.50" stroke="#7a7a7a" stroke-width="1.3"  stroke-opacity="0.42"/>
<line x1="579.20" y1="843.50" x2="595.20" y2="843.50" stroke="#7a7a7a" stroke-width="1.3"  stroke-opacity="0.42"/>
<line x1="579.20" y1="867.50" x2="595.20" y2="867.50" stroke="#7a7a7a" stroke-width="1.3"  stroke-opacity="0.42"/>
<line x1="627.20" y1="835.50" x2="627.20" y2="856.60" stroke="#7a7a7a" stroke-width="1.3"  stroke-opacity="0.42"/>
<line x1="619.20" y1="835.50" x2="635.20" y2="835.50" stroke="#7a7a7a" stroke-width="1.3"  stroke-opacity="0.42"/>
<line x1="619.20" y1="856.60" x2="635.20" y2="856.60" stroke="#7a7a7a" stroke-width="1.3"  stroke-opacity="0.42"/>
<circle cx="493.10" cy="825.90" r="2.45" fill="#000"/>
<circle cx="498.60" cy="827.00" r="2.45" fill="#000"/>
<circle cx="504.00" cy="826.80" r="2.45" fill="#000"/>
<circle cx="509.60" cy="827.70" r="2.45" fill="#000"/>
<circle cx="515.00" cy="825.50" r="2.45" fill="#000"/>
<circle cx="504.00" cy="832.00" r="2.45" fill="#000"/>
<circle cx="498.60" cy="836.30" r="2.45" fill="#000"/>
<circle cx="493.10" cy="838.60" r="2.45" fill="#000"/>
<circle cx="498.60" cy="841.40" r="2.45" fill="#000"/>
<circle cx="504.00" cy="841.70" r="2.45" fill="#000"/>
<circle cx="509.60" cy="842.30" r="2.45" fill="#000"/>
<circle cx="515.00" cy="840.80" r="2.45" fill="#000"/>
<circle cx="520.60" cy="839.80" r="2.45" fill="#000"/>
<circle cx="506.70" cy="847.50" r="2.45" fill="#000"/>
<circle cx="512.30" cy="847.90" r="2.45" fill="#000"/>
<circle cx="501.10" cy="851.60" r="2.45" fill="#000"/>
<circle cx="542.30" cy="831.50" r="2.45" fill="#000"/>
<circle cx="551.60" cy="835.80" r="2.45" fill="#000"/>
<circle cx="560.70" cy="837.30" r="2.45" fill="#000"/>
<circle cx="533.40" cy="841.10" r="2.45" fill="#000"/>
<circle cx="542.30" cy="841.70" r="2.45" fill="#000"/>
<circle cx="551.60" cy="842.00" r="2.45" fill="#000"/>
<circle cx="560.70" cy="845.80" r="2.45" fill="#000"/>
<circle cx="533.40" cy="849.40" r="2.45" fill="#000"/>
<circle cx="542.30" cy="847.00" r="2.45" fill="#000"/>
<circle cx="551.60" cy="849.10" r="2.45" fill="#000"/>
<circle cx="551.60" cy="854.50" r="2.45" fill="#000"/>
<circle cx="542.30" cy="855.60" r="2.45" fill="#000"/>
<circle cx="547.00" cy="861.20" r="2.45" fill="#000"/>
<circle cx="547.00" cy="868.40" r="2.45" fill="#000"/>
<circle cx="556.00" cy="868.70" r="2.45" fill="#000"/>
<circle cx="538.00" cy="871.10" r="2.45" fill="#000"/>
<circle cx="593.80" cy="836.10" r="2.45" fill="#000"/>
<circle cx="580.10" cy="840.80" r="2.45" fill="#000"/>
<circle cx="587.10" cy="839.80" r="2.45" fill="#000"/>
<circle cx="593.80" cy="842.00" r="2.45" fill="#000"/>
<circle cx="580.10" cy="851.00" r="2.45" fill="#000"/>
<circle cx="587.10" cy="850.70" r="2.45" fill="#000"/>
<circle cx="593.80" cy="848.80" r="2.45" fill="#000"/>
<circle cx="573.40" cy="860.70" r="2.45" fill="#000"/>
<circle cx="580.10" cy="859.70" r="2.45" fill="#000"/>
<circle cx="587.10" cy="858.10" r="2.45" fill="#000"/>
<circle cx="600.70" cy="859.00" r="2.45" fill="#000"/>
<circle cx="587.10" cy="863.80" r="2.45" fill="#000"/>
<circle cx="593.80" cy="862.80" r="2.45" fill="#000"/>
<circle cx="583.60" cy="869.00" r="2.45" fill="#000"/>
<circle cx="590.40" cy="869.60" r="2.45" fill="#000"/>
<circle cx="587.10" cy="877.30" r="2.45" fill="#000"/>
<circle cx="620.50" cy="830.10" r="2.45" fill="#000"/>
<circle cx="627.00" cy="832.10" r="2.45" fill="#000"/>
<circle cx="633.90" cy="831.10" r="2.45" fill="#000"/>
<circle cx="620.50" cy="839.60" r="2.45" fill="#000"/>
<circle cx="627.00" cy="838.20" r="2.45" fill="#000"/>
<circle cx="633.90" cy="840.40" r="2.45" fill="#000"/>
<circle cx="613.60" cy="846.60" r="2.45" fill="#000"/>
<circle cx="620.50" cy="845.00" r="2.45" fill="#000"/>
<circle cx="627.00" cy="848.80" r="2.45" fill="#000"/>
<circle cx="633.90" cy="847.90" r="2.45" fill="#000"/>
<circle cx="640.90" cy="849.70" r="2.45" fill="#000"/>
<circle cx="613.60" cy="853.10" r="2.45" fill="#000"/>
<circle cx="620.50" cy="854.70" r="2.45" fill="#000"/>
<circle cx="627.00" cy="858.10" r="2.45" fill="#000"/>
<circle cx="633.90" cy="856.00" r="2.45" fill="#000"/>
<circle cx="627.00" cy="868.60" r="2.45" fill="#000"/>
<line x1="507.30" y1="770.70" x2="628.20" y2="770.70" stroke="#000" stroke-width="2.2" />
<text x="567.75" y="768.50" font-size="10.5" text-anchor="middle" fill="#000" stroke="#000" ></text>
<text x="567.20" y="765.20" font-size="11.8" text-anchor="middle" fill="#000" stroke="#000" font-style="italic" >ns</text>
<line x1="507.30" y1="787.80" x2="587.40" y2="787.80" stroke="#000" stroke-width="2.4" />
<text x="547.35" y="786.60" font-size="10.7" text-anchor="middle" fill="#000" stroke="#000" >***</text>
<line x1="507.30" y1="804.10" x2="547.50" y2="804.10" stroke="#000" stroke-width="2.4" />
<text x="527.40" y="802.90" font-size="10.7" text-anchor="middle" fill="#000" stroke="#000" >*</text>
<text x="460.60" y="933.50" font-size="11.55" text-anchor="end" fill="#000" stroke="#000" >mRNA/LNP dose (µg)</text>
<line x1="464.80" y1="929.30" x2="473.40" y2="929.30" stroke="#000" stroke-width="1.5" />
<polyline points="470.30,925.70 473.90,929.30 470.30,932.90" fill="none" stroke="#000" stroke-width="1.5" stroke-linejoin="miter"/>
<text x="547.00" y="933.50" font-size="11.5" text-anchor="middle" fill="#000" stroke="#000" >10</text>
<text x="587.20" y="933.50" font-size="11.5" text-anchor="middle" fill="#000" stroke="#000" >10</text>
<text x="627.20" y="933.50" font-size="11.5" text-anchor="middle" fill="#000" stroke="#000" >2</text>
<polyline points="571.90,938.20 571.90,946.20 644.40,946.20 644.40,938.20" fill="none" stroke="#000" stroke-width="2.4" stroke-linejoin="miter"/>
<text x="463.80" y="961.60" font-size="11.55" text-anchor="end" fill="#000" stroke="#000" >mRNA vaccine</text>
<line x1="464.80" y1="957.40" x2="473.40" y2="957.40" stroke="#000" stroke-width="1.5" />
<polyline points="470.30,953.80 473.90,957.40 470.30,961.00" fill="none" stroke="#000" stroke-width="1.5" stroke-linejoin="miter"/>
<text x="506.80" y="961.60" font-size="11.5" text-anchor="middle" fill="#000" stroke="#000" >PBS</text>
<text x="547.00" y="961.60" font-size="11.5" text-anchor="middle" fill="#000" stroke="#000" >mRNA-</text>
<text x="547.00" y="974.90" font-size="11.5" text-anchor="middle" fill="#000" stroke="#000" >native</text>
<text x="606.90" y="961.60" font-size="11.5" text-anchor="middle" fill="#000" stroke="#000" >mRNA-</text>
<text x="606.90" y="974.90" font-size="11.5" text-anchor="middle" fill="#000" stroke="#000" >VLP</text>
<text x="62.10" y="1012.10" font-size="25.8" text-anchor="start" fill="#000" stroke="#000" >E</text>
<text x="205.50" y="1007.00" font-size="12.8" text-anchor="middle" fill="#000" stroke="#000" >Day 3 post virus challenge</text>
<rect x="143.30" y="1076.80" width="31.80" height="159.80" fill="#7f7f7f"/>
<rect x="183.60" y="1203.10" width="31.80" height="33.50" fill="#ef8a7e"/>
<rect x="223.70" y="1203.10" width="31.80" height="33.50" fill="#8398fa"/>
<rect x="264.00" y="1189.40" width="31.80" height="47.20" fill="#bcc2fb"/>
<line x1="127.20" y1="1051.61" x2="127.20" y2="1237.60" stroke="#000" stroke-width="2.1" />
<line x1="120.90" y1="1236.60" x2="312.00" y2="1236.60" stroke="#000" stroke-width="2.1" />
<line x1="120.90" y1="1052.61" x2="127.20" y2="1052.61" stroke="#000" stroke-width="2.0" />
<text x="114.40" y="1056.51" font-size="10.3" text-anchor="end" stroke="#000">10<tspan dy="-3.3" font-size="7.93">10</tspan></text>
<line x1="120.90" y1="1078.88" x2="127.20" y2="1078.88" stroke="#000" stroke-width="2.0" />
<text x="114.40" y="1082.78" font-size="10.3" text-anchor="end" stroke="#000">10<tspan dy="-3.3" font-size="7.93">9</tspan></text>
<line x1="120.90" y1="1105.15" x2="127.20" y2="1105.15" stroke="#000" stroke-width="2.0" />
<text x="114.40" y="1109.05" font-size="10.3" text-anchor="end" stroke="#000">10<tspan dy="-3.3" font-size="7.93">8</tspan></text>
<line x1="120.90" y1="1131.42" x2="127.20" y2="1131.42" stroke="#000" stroke-width="2.0" />
<text x="114.40" y="1135.32" font-size="10.3" text-anchor="end" stroke="#000">10<tspan dy="-3.3" font-size="7.93">7</tspan></text>
<line x1="120.90" y1="1157.69" x2="127.20" y2="1157.69" stroke="#000" stroke-width="2.0" />
<text x="114.40" y="1161.59" font-size="10.3" text-anchor="end" stroke="#000">10<tspan dy="-3.3" font-size="7.93">6</tspan></text>
<line x1="120.90" y1="1183.96" x2="127.20" y2="1183.96" stroke="#000" stroke-width="2.0" />
<text x="114.40" y="1187.86" font-size="10.3" text-anchor="end" stroke="#000">10<tspan dy="-3.3" font-size="7.93">5</tspan></text>
<line x1="120.90" y1="1210.23" x2="127.20" y2="1210.23" stroke="#000" stroke-width="2.0" />
<text x="114.40" y="1214.13" font-size="10.3" text-anchor="end" stroke="#000">10<tspan dy="-3.3" font-size="7.93">4</tspan></text>
<line x1="120.90" y1="1236.50" x2="127.20" y2="1236.50" stroke="#000" stroke-width="2.0" />
<text x="114.40" y="1240.40" font-size="10.3" text-anchor="end" stroke="#000">10<tspan dy="-3.3" font-size="7.93">3</tspan></text>
<line x1="159.20" y1="1236.60" x2="159.20" y2="1243.10" stroke="#000" stroke-width="2.0" />
<line x1="199.50" y1="1236.60" x2="199.50" y2="1243.10" stroke="#000" stroke-width="2.0" />
<line x1="239.60" y1="1236.60" x2="239.60" y2="1243.10" stroke="#000" stroke-width="2.0" />
<line x1="279.90" y1="1236.60" x2="279.90" y2="1243.10" stroke="#000" stroke-width="2.0" />
<line x1="120.90" y1="1203.10" x2="127.20" y2="1203.10" stroke="#000" stroke-width="2.0" />
<line x1="128.20" y1="1203.10" x2="311.00" y2="1203.10" stroke="#222" stroke-width="1.1" stroke-dasharray="1.3,1.2"/>
<text x="311.70" y="1206.90" font-size="10.2" text-anchor="start" fill="#000" stroke="#000" >LLD</text>
<text transform="translate(89.90,1145.20) rotate(-90)" font-size="12.8" text-anchor="middle" stroke="#000">Infectious virus titer (TCID50/g)</text>
<line x1="159.20" y1="1065.20" x2="159.20" y2="1076.80" stroke="#7a7a7a" stroke-width="1.3"  stroke-opacity="0.42"/>
<line x1="151.20" y1="1065.20" x2="167.20" y2="1065.20" stroke="#7a7a7a" stroke-width="1.3"  stroke-opacity="0.42"/>
<line x1="279.90" y1="1165.50" x2="279.90" y2="1212.90" stroke="#555555" stroke-width="1.3"  stroke-opacity="0.55"/>
<line x1="271.90" y1="1165.50" x2="287.90" y2="1165.50" stroke="#555555" stroke-width="1.3"  stroke-opacity="0.55"/>
<line x1="271.90" y1="1212.90" x2="287.90" y2="1212.90" stroke="#555555" stroke-width="1.3"  stroke-opacity="0.55"/>
<circle cx="159.40" cy="1060.80" r="2.45" fill="#000"/>
<circle cx="149.60" cy="1072.80" r="2.45" fill="#000"/>
<circle cx="159.40" cy="1069.10" r="2.45" fill="#000"/>
<circle cx="169.30" cy="1069.10" r="2.45" fill="#000"/>
<circle cx="159.40" cy="1077.90" r="2.45" fill="#000"/>
<circle cx="169.30" cy="1081.00" r="2.45" fill="#000"/>
<circle cx="159.40" cy="1086.00" r="2.45" fill="#000"/>
<circle cx="159.40" cy="1098.00" r="2.45" fill="#000"/>
<circle cx="185.90" cy="1203.10" r="2.45" fill="#000"/>
<circle cx="189.87" cy="1203.10" r="2.45" fill="#000"/>
<circle cx="193.84" cy="1203.10" r="2.45" fill="#000"/>
<circle cx="197.81" cy="1203.10" r="2.45" fill="#000"/>
<circle cx="201.78" cy="1203.10" r="2.45" fill="#000"/>
<circle cx="205.75" cy="1203.10" r="2.45" fill="#000"/>
<circle cx="209.72" cy="1203.10" r="2.45" fill="#000"/>
<circle cx="213.69" cy="1203.10" r="2.45" fill="#000"/>
<circle cx="226.10" cy="1203.10" r="2.45" fill="#000"/>
<circle cx="230.04" cy="1203.10" r="2.45" fill="#000"/>
<circle cx="233.98" cy="1203.10" r="2.45" fill="#000"/>
<circle cx="237.92" cy="1203.10" r="2.45" fill="#000"/>
<circle cx="241.86" cy="1203.10" r="2.45" fill="#000"/>
<circle cx="245.80" cy="1203.10" r="2.45" fill="#000"/>
<circle cx="249.74" cy="1203.10" r="2.45" fill="#000"/>
<circle cx="253.68" cy="1203.10" r="2.45" fill="#000"/>
<circle cx="279.80" cy="1139.90" r="2.45" fill="#000"/>
<circle cx="279.80" cy="1164.20" r="2.45" fill="#000"/>
<circle cx="279.80" cy="1194.50" r="2.45" fill="#000"/>
<circle cx="266.00" cy="1203.10" r="2.45" fill="#000"/>
<circle cx="272.60" cy="1203.10" r="2.45" fill="#000"/>
<circle cx="279.80" cy="1203.10" r="2.45" fill="#000"/>
<circle cx="286.50" cy="1203.10" r="2.45" fill="#000"/>
<circle cx="293.10" cy="1203.10" r="2.45" fill="#000"/>
<text x="112.80" y="1257.10" font-size="11.55" text-anchor="end" fill="#000" stroke="#000" >mRNA/LNP dose (µg)</text>
<line x1="117.00" y1="1252.90" x2="125.60" y2="1252.90" stroke="#000" stroke-width="1.5" />
<polyline points="122.50,1249.30 126.10,1252.90 122.50,1256.50" fill="none" stroke="#000" stroke-width="1.5" stroke-linejoin="miter"/>
<text x="199.50" y="1257.10" font-size="11.5" text-anchor="middle" fill="#000" stroke="#000" >10</text>
<text x="239.60" y="1257.10" font-size="11.5" text-anchor="middle" fill="#000" stroke="#000" >10</text>
<text x="279.90" y="1257.10" font-size="11.5" text-anchor="middle" fill="#000" stroke="#000" >2</text>
<polyline points="224.30,1262.60 224.30,1269.50 296.70,1269.50 296.70,1262.60" fill="none" stroke="#000" stroke-width="2.4" stroke-linejoin="miter"/>
<text x="112.80" y="1284.90" font-size="11.55" text-anchor="end" fill="#000" stroke="#000" >mRNA vaccine</text>
<line x1="117.00" y1="1280.70" x2="125.60" y2="1280.70" stroke="#000" stroke-width="1.5" />
<polyline points="122.50,1277.10 126.10,1280.70 122.50,1284.30" fill="none" stroke="#000" stroke-width="1.5" stroke-linejoin="miter"/>
<text x="159.20" y="1284.90" font-size="11.5" text-anchor="middle" fill="#000" stroke="#000" >PBS</text>
<text x="199.50" y="1284.90" font-size="11.5" text-anchor="middle" fill="#000" stroke="#000" >mRNA-</text>
<text x="199.50" y="1298.20" font-size="11.5" text-anchor="middle" fill="#000" stroke="#000" >native</text>
<text x="259.50" y="1284.90" font-size="11.5" text-anchor="middle" fill="#000" stroke="#000" >mRNA-</text>
<text x="259.50" y="1298.20" font-size="11.5" text-anchor="middle" fill="#000" stroke="#000" >VLP</text>
<line x1="158.80" y1="1026.20" x2="280.00" y2="1026.20" stroke="#000" stroke-width="2.4" />
<text x="219.40" y="1025.10" font-size="10.7" text-anchor="middle" fill="#000" stroke="#000" >**</text>
<line x1="158.80" y1="1039.00" x2="239.00" y2="1039.00" stroke="#000" stroke-width="2.4" />
<text x="198.90" y="1037.90" font-size="10.7" text-anchor="middle" fill="#000" stroke="#000" >****</text>
<line x1="158.80" y1="1052.20" x2="198.90" y2="1052.20" stroke="#000" stroke-width="2.4" />
<text x="178.85" y="1051.10" font-size="10.7" text-anchor="middle" fill="#000" stroke="#000" >****</text>
<text x="553.70" y="1007.00" font-size="12.8" text-anchor="middle" fill="#000" stroke="#000" >Day 7 post virus challenge</text>
<rect x="490.90" y="1207.10" width="31.80" height="29.50" fill="#7f7f7f"/>
<rect x="531.20" y="1201.30" width="31.80" height="35.30" fill="#ef8a7e"/>
<rect x="571.30" y="1201.90" width="31.80" height="34.70" fill="#8398fa"/>
<rect x="611.60" y="1197.50" width="31.80" height="39.10" fill="#bcc2fb"/>
<line x1="474.80" y1="1051.61" x2="474.80" y2="1237.60" stroke="#000" stroke-width="2.1" />
<line x1="468.50" y1="1236.60" x2="659.60" y2="1236.60" stroke="#000" stroke-width="2.1" />
<line x1="468.50" y1="1052.61" x2="474.80" y2="1052.61" stroke="#000" stroke-width="2.0" />
<text x="462.00" y="1056.51" font-size="10.3" text-anchor="end" stroke="#000">10<tspan dy="-3.3" font-size="7.93">10</tspan></text>
<line x1="468.50" y1="1078.88" x2="474.80" y2="1078.88" stroke="#000" stroke-width="2.0" />
<text x="462.00" y="1082.78" font-size="10.3" text-anchor="end" stroke="#000">10<tspan dy="-3.3" font-size="7.93">9</tspan></text>
<line x1="468.50" y1="1105.15" x2="474.80" y2="1105.15" stroke="#000" stroke-width="2.0" />
<text x="462.00" y="1109.05" font-size="10.3" text-anchor="end" stroke="#000">10<tspan dy="-3.3" font-size="7.93">8</tspan></text>
<line x1="468.50" y1="1131.42" x2="474.80" y2="1131.42" stroke="#000" stroke-width="2.0" />
<text x="462.00" y="1135.32" font-size="10.3" text-anchor="end" stroke="#000">10<tspan dy="-3.3" font-size="7.93">7</tspan></text>
<line x1="468.50" y1="1157.69" x2="474.80" y2="1157.69" stroke="#000" stroke-width="2.0" />
<text x="462.00" y="1161.59" font-size="10.3" text-anchor="end" stroke="#000">10<tspan dy="-3.3" font-size="7.93">6</tspan></text>
<line x1="468.50" y1="1183.96" x2="474.80" y2="1183.96" stroke="#000" stroke-width="2.0" />
<text x="462.00" y="1187.86" font-size="10.3" text-anchor="end" stroke="#000">10<tspan dy="-3.3" font-size="7.93">5</tspan></text>
<line x1="468.50" y1="1210.23" x2="474.80" y2="1210.23" stroke="#000" stroke-width="2.0" />
<text x="462.00" y="1214.13" font-size="10.3" text-anchor="end" stroke="#000">10<tspan dy="-3.3" font-size="7.93">4</tspan></text>
<line x1="468.50" y1="1236.50" x2="474.80" y2="1236.50" stroke="#000" stroke-width="2.0" />
<text x="462.00" y="1240.40" font-size="10.3" text-anchor="end" stroke="#000">10<tspan dy="-3.3" font-size="7.93">3</tspan></text>
<line x1="506.80" y1="1236.60" x2="506.80" y2="1243.10" stroke="#000" stroke-width="2.0" />
<line x1="547.10" y1="1236.60" x2="547.10" y2="1243.10" stroke="#000" stroke-width="2.0" />
<line x1="587.20" y1="1236.60" x2="587.20" y2="1243.10" stroke="#000" stroke-width="2.0" />
<line x1="627.50" y1="1236.60" x2="627.50" y2="1243.10" stroke="#000" stroke-width="2.0" />
<text transform="translate(437.50,1145.20) rotate(-90)" font-size="12.8" text-anchor="middle" stroke="#000">Infectious virus titer (TCID50/g)</text>
<line x1="506.80" y1="1193.30" x2="506.80" y2="1207.10" stroke="#7a7a7a" stroke-width="1.3"  stroke-opacity="0.42"/>
<line x1="498.80" y1="1193.30" x2="514.80" y2="1193.30" stroke="#7a7a7a" stroke-width="1.3"  stroke-opacity="0.42"/>
<line x1="547.10" y1="1187.10" x2="547.10" y2="1215.40" stroke="#7a7a7a" stroke-width="1.3"  stroke-opacity="0.42"/>
<line x1="539.10" y1="1187.10" x2="555.10" y2="1187.10" stroke="#7a7a7a" stroke-width="1.3"  stroke-opacity="0.42"/>
<line x1="539.10" y1="1215.40" x2="555.10" y2="1215.40" stroke="#7a7a7a" stroke-width="1.3"  stroke-opacity="0.42"/>
<line x1="587.20" y1="1188.00" x2="587.20" y2="1216.20" stroke="#7a7a7a" stroke-width="1.3"  stroke-opacity="0.42"/>
<line x1="579.20" y1="1188.00" x2="595.20" y2="1188.00" stroke="#7a7a7a" stroke-width="1.3"  stroke-opacity="0.42"/>
<line x1="579.20" y1="1216.20" x2="595.20" y2="1216.20" stroke="#7a7a7a" stroke-width="1.3"  stroke-opacity="0.42"/>
<line x1="627.50" y1="1184.60" x2="627.50" y2="1209.20" stroke="#7a7a7a" stroke-width="1.3"  stroke-opacity="0.42"/>
<line x1="619.50" y1="1184.60" x2="635.50" y2="1184.60" stroke="#7a7a7a" stroke-width="1.3"  stroke-opacity="0.42"/>
<line x1="619.50" y1="1209.20" x2="635.50" y2="1209.20" stroke="#7a7a7a" stroke-width="1.3"  stroke-opacity="0.42"/>
<circle cx="502.70" cy="1192.70" r="2.45" fill="#000"/>
<circle cx="511.20" cy="1191.10" r="2.45" fill="#000"/>
<circle cx="520.40" cy="1188.70" r="2.45" fill="#000"/>
<circle cx="493.50" cy="1211.10" r="2.45" fill="#000"/>
<circle cx="502.70" cy="1214.70" r="2.45" fill="#000"/>
<circle cx="493.50" cy="1218.40" r="2.45" fill="#000"/>
<circle cx="511.20" cy="1218.40" r="2.45" fill="#000"/>
<circle cx="520.40" cy="1215.70" r="2.45" fill="#000"/>
<circle cx="537.30" cy="1187.80" r="2.45" fill="#000"/>
<circle cx="547.40" cy="1186.20" r="2.45" fill="#000"/>
<circle cx="556.30" cy="1186.20" r="2.45" fill="#000"/>
<circle cx="556.30" cy="1191.70" r="2.45" fill="#000"/>
<circle cx="537.30" cy="1210.80" r="2.45" fill="#000"/>
<circle cx="537.30" cy="1216.90" r="2.45" fill="#000"/>
<circle cx="547.40" cy="1215.40" r="2.45" fill="#000"/>
<circle cx="556.30" cy="1215.40" r="2.45" fill="#000"/>
<circle cx="573.70" cy="1190.10" r="2.45" fill="#000"/>
<circle cx="582.40" cy="1188.60" r="2.45" fill="#000"/>
<circle cx="591.60" cy="1187.30" r="2.45" fill="#000"/>
<circle cx="601.10" cy="1188.80" r="2.45" fill="#000"/>
<circle cx="573.70" cy="1212.50" r="2.45" fill="#000"/>
<circle cx="573.70" cy="1217.80" r="2.45" fill="#000"/>
<circle cx="591.60" cy="1216.00" r="2.45" fill="#000"/>
<circle cx="601.10" cy="1214.20" r="2.45" fill="#000"/>
<circle cx="613.50" cy="1187.00" r="2.45" fill="#000"/>
<circle cx="620.20" cy="1191.90" r="2.45" fill="#000"/>
<circle cx="627.20" cy="1188.80" r="2.45" fill="#000"/>
<circle cx="633.90" cy="1191.40" r="2.45" fill="#000"/>
<circle cx="640.80" cy="1188.80" r="2.45" fill="#000"/>
<circle cx="627.20" cy="1196.50" r="2.45" fill="#000"/>
<circle cx="623.90" cy="1217.80" r="2.45" fill="#000"/>
<circle cx="630.60" cy="1216.90" r="2.45" fill="#000"/>
<text x="460.40" y="1257.10" font-size="11.55" text-anchor="end" fill="#000" stroke="#000" >mRNA/LNP dose (µg)</text>
<line x1="464.60" y1="1252.90" x2="473.20" y2="1252.90" stroke="#000" stroke-width="1.5" />
<polyline points="470.10,1249.30 473.70,1252.90 470.10,1256.50" fill="none" stroke="#000" stroke-width="1.5" stroke-linejoin="miter"/>
<text x="547.10" y="1257.10" font-size="11.5" text-anchor="middle" fill="#000" stroke="#000" >10</text>
<text x="587.20" y="1257.10" font-size="11.5" text-anchor="middle" fill="#000" stroke="#000" >10</text>
<text x="627.50" y="1257.10" font-size="11.5" text-anchor="middle" fill="#000" stroke="#000" >2</text>
<polyline points="571.90,1262.60 571.90,1269.50 644.30,1269.50 644.30,1262.60" fill="none" stroke="#000" stroke-width="2.4" stroke-linejoin="miter"/>
<text x="463.60" y="1284.90" font-size="11.55" text-anchor="end" fill="#000" stroke="#000" >mRNA vaccine</text>
<line x1="464.60" y1="1280.70" x2="473.20" y2="1280.70" stroke="#000" stroke-width="1.5" />
<polyline points="470.10,1277.10 473.70,1280.70 470.10,1284.30" fill="none" stroke="#000" stroke-width="1.5" stroke-linejoin="miter"/>
<text x="506.80" y="1284.90" font-size="11.5" text-anchor="middle" fill="#000" stroke="#000" >PBS</text>
<text x="547.10" y="1284.90" font-size="11.5" text-anchor="middle" fill="#000" stroke="#000" >mRNA-</text>
<text x="547.10" y="1298.20" font-size="11.5" text-anchor="middle" fill="#000" stroke="#000" >native</text>
<text x="607.10" y="1284.90" font-size="11.5" text-anchor="middle" fill="#000" stroke="#000" >mRNA-</text>
<text x="607.10" y="1298.20" font-size="11.5" text-anchor="middle" fill="#000" stroke="#000" >VLP</text>
<line x1="506.60" y1="1122.80" x2="626.80" y2="1122.80" stroke="#000" stroke-width="2.2" />
<text x="566.40" y="1118.20" font-size="11.8" text-anchor="middle" fill="#000" stroke="#000" font-style="italic" >ns</text>
<line x1="506.60" y1="1141.20" x2="586.30" y2="1141.20" stroke="#000" stroke-width="2.2" />
<text x="545.90" y="1136.60" font-size="11.8" text-anchor="middle" fill="#000" stroke="#000" font-style="italic" >ns</text>
<line x1="506.60" y1="1160.50" x2="546.50" y2="1160.50" stroke="#000" stroke-width="2.2" />
<text x="526.60" y="1155.90" font-size="11.8" text-anchor="middle" fill="#000" stroke="#000" font-style="italic" >ns</text>
<text x="58.20" y="1355.60" font-size="25.8" text-anchor="start" fill="#000" stroke="#000" >F</text>
<text x="205.50" y="1351.80" font-size="12.8" text-anchor="middle" fill="#000" stroke="#000" >Day 3 post virus challenge</text>
<rect x="143.30" y="1417.20" width="31.80" height="162.90" fill="#7f7f7f"/>
<rect x="183.60" y="1500.70" width="31.80" height="79.40" fill="#ef8a7e"/>
<rect x="223.60" y="1540.10" width="31.80" height="40.00" fill="#8398fa"/>
<rect x="263.70" y="1498.10" width="31.80" height="82.00" fill="#bcc2fb"/>
<line x1="127.30" y1="1394.80" x2="127.30" y2="1581.10" stroke="#000" stroke-width="2.1" />
<line x1="126.30" y1="1580.10" x2="311.40" y2="1580.10" stroke="#000" stroke-width="2.1" />
<line x1="121.00" y1="1395.80" x2="127.30" y2="1395.80" stroke="#000" stroke-width="2.0" />
<text x="114.50" y="1399.70" font-size="10.3" text-anchor="end" stroke="#000">10<tspan dy="-3.3" font-size="7.93">12</tspan></text>
<line x1="121.00" y1="1429.44" x2="127.30" y2="1429.44" stroke="#000" stroke-width="2.0" />
<text x="114.50" y="1433.34" font-size="10.3" text-anchor="end" stroke="#000">10<tspan dy="-3.3" font-size="7.93">10</tspan></text>
<line x1="121.00" y1="1463.08" x2="127.30" y2="1463.08" stroke="#000" stroke-width="2.0" />
<text x="114.50" y="1466.98" font-size="10.3" text-anchor="end" stroke="#000">10<tspan dy="-3.3" font-size="7.93">8</tspan></text>
<line x1="121.00" y1="1496.72" x2="127.30" y2="1496.72" stroke="#000" stroke-width="2.0" />
<text x="114.50" y="1500.62" font-size="10.3" text-anchor="end" stroke="#000">10<tspan dy="-3.3" font-size="7.93">6</tspan></text>
<line x1="121.00" y1="1530.36" x2="127.30" y2="1530.36" stroke="#000" stroke-width="2.0" />
<text x="114.50" y="1534.26" font-size="10.3" text-anchor="end" stroke="#000">10<tspan dy="-3.3" font-size="7.93">4</tspan></text>
<line x1="121.00" y1="1564.00" x2="127.30" y2="1564.00" stroke="#000" stroke-width="2.0" />
<text x="114.50" y="1567.90" font-size="10.3" text-anchor="end" stroke="#000">10<tspan dy="-3.3" font-size="7.93">2</tspan></text>
<line x1="159.20" y1="1580.10" x2="159.20" y2="1586.60" stroke="#000" stroke-width="2.0" />
<line x1="199.50" y1="1580.10" x2="199.50" y2="1586.60" stroke="#000" stroke-width="2.0" />
<line x1="239.50" y1="1580.10" x2="239.50" y2="1586.60" stroke="#000" stroke-width="2.0" />
<line x1="279.60" y1="1580.10" x2="279.60" y2="1586.60" stroke="#000" stroke-width="2.0" />
<line x1="121.00" y1="1558.60" x2="127.30" y2="1558.60" stroke="#000" stroke-width="2.0" />
<line x1="128.30" y1="1558.60" x2="310.80" y2="1558.60" stroke="#222" stroke-width="1.1" stroke-dasharray="1.3,1.2"/>
<text x="311.90" y="1562.60" font-size="10.2" text-anchor="start" fill="#000" stroke="#000" >LLD</text>
<text transform="translate(89.70,1489.20) rotate(-90)" font-size="12.8" text-anchor="middle" stroke="#000">Viral sgRNA (copies/g)</text>
<line x1="159.20" y1="1409.00" x2="159.20" y2="1417.00" stroke="#7a7a7a" stroke-width="1.3"  stroke-opacity="0.42"/>
<line x1="151.20" y1="1409.00" x2="167.20" y2="1409.00" stroke="#7a7a7a" stroke-width="1.3"  stroke-opacity="0.42"/>
<line x1="199.50" y1="1492.80" x2="199.50" y2="1508.50" stroke="#7a7a7a" stroke-width="1.3"  stroke-opacity="0.42"/>
<line x1="191.50" y1="1492.80" x2="207.50" y2="1492.80" stroke="#7a7a7a" stroke-width="1.3"  stroke-opacity="0.42"/>
<line x1="191.50" y1="1508.50" x2="207.50" y2="1508.50" stroke="#7a7a7a" stroke-width="1.3"  stroke-opacity="0.42"/>
<line x1="239.50" y1="1527.60" x2="239.50" y2="1552.40" stroke="#7a7a7a" stroke-width="1.3"  stroke-opacity="0.42"/>
<line x1="231.50" y1="1527.60" x2="247.50" y2="1527.60" stroke="#7a7a7a" stroke-width="1.3"  stroke-opacity="0.42"/>
<line x1="231.50" y1="1552.40" x2="247.50" y2="1552.40" stroke="#7a7a7a" stroke-width="1.3"  stroke-opacity="0.42"/>
<line x1="279.60" y1="1466.70" x2="279.60" y2="1529.10" stroke="#555555" stroke-width="1.3"  stroke-opacity="0.55"/>
<line x1="271.60" y1="1466.70" x2="287.60" y2="1466.70" stroke="#555555" stroke-width="1.3"  stroke-opacity="0.55"/>
<line x1="271.60" y1="1529.10" x2="287.60" y2="1529.10" stroke="#555555" stroke-width="1.3"  stroke-opacity="0.55"/>
<circle cx="149.80" cy="1407.80" r="2.45" fill="#000"/>
<circle cx="159.60" cy="1409.90" r="2.45" fill="#000"/>
<circle cx="169.10" cy="1411.50" r="2.45" fill="#000"/>
<circle cx="149.80" cy="1413.90" r="2.45" fill="#000"/>
<circle cx="159.60" cy="1418.50" r="2.45" fill="#000"/>
<circle cx="169.10" cy="1416.10" r="2.45" fill="#000"/>
<circle cx="164.20" cy="1426.80" r="2.45" fill="#000"/>
<circle cx="154.40" cy="1431.40" r="2.45" fill="#000"/>
<circle cx="203.80" cy="1489.20" r="2.45" fill="#000"/>
<circle cx="194.80" cy="1492.70" r="2.45" fill="#000"/>
<circle cx="185.70" cy="1500.90" r="2.45" fill="#000"/>
<circle cx="194.80" cy="1502.20" r="2.45" fill="#000"/>
<circle cx="203.80" cy="1499.60" r="2.45" fill="#000"/>
<circle cx="213.00" cy="1498.40" r="2.45" fill="#000"/>
<circle cx="194.80" cy="1511.80" r="2.45" fill="#000"/>
<circle cx="203.80" cy="1510.70" r="2.45" fill="#000"/>
<circle cx="249.50" cy="1526.30" r="2.45" fill="#000"/>
<circle cx="239.60" cy="1530.50" r="2.45" fill="#000"/>
<circle cx="229.60" cy="1534.60" r="2.45" fill="#000"/>
<circle cx="239.60" cy="1535.50" r="2.45" fill="#000"/>
<circle cx="249.50" cy="1534.90" r="2.45" fill="#000"/>
<circle cx="239.60" cy="1541.10" r="2.45" fill="#000"/>
<circle cx="234.60" cy="1558.70" r="2.45" fill="#000"/>
<circle cx="244.40" cy="1558.70" r="2.45" fill="#000"/>
<circle cx="279.70" cy="1448.50" r="2.45" fill="#000"/>
<circle cx="279.70" cy="1455.10" r="2.45" fill="#000"/>
<circle cx="289.50" cy="1492.80" r="2.45" fill="#000"/>
<circle cx="279.70" cy="1497.50" r="2.45" fill="#000"/>
<circle cx="279.70" cy="1513.90" r="2.45" fill="#000"/>
<circle cx="279.70" cy="1522.90" r="2.45" fill="#000"/>
<circle cx="269.80" cy="1526.10" r="2.45" fill="#000"/>
<circle cx="289.50" cy="1525.80" r="2.45" fill="#000"/>
<text x="113.60" y="1601.20" font-size="11.55" text-anchor="end" fill="#000" stroke="#000" >mRNA/LNP dose (µg)</text>
<line x1="117.80" y1="1597.00" x2="126.40" y2="1597.00" stroke="#000" stroke-width="1.5" />
<polyline points="123.30,1593.40 126.90,1597.00 123.30,1600.60" fill="none" stroke="#000" stroke-width="1.5" stroke-linejoin="miter"/>
<text x="199.50" y="1601.20" font-size="11.5" text-anchor="middle" fill="#000" stroke="#000" >10</text>
<text x="239.50" y="1601.20" font-size="11.5" text-anchor="middle" fill="#000" stroke="#000" >10</text>
<text x="279.60" y="1601.20" font-size="11.5" text-anchor="middle" fill="#000" stroke="#000" >2</text>
<polyline points="224.00,1606.00 224.00,1613.90 297.60,1613.90 297.60,1606.00" fill="none" stroke="#000" stroke-width="2.4" stroke-linejoin="miter"/>
<text x="116.80" y="1629.40" font-size="11.55" text-anchor="end" fill="#000" stroke="#000" >mRNA vaccine</text>
<line x1="117.80" y1="1625.20" x2="126.40" y2="1625.20" stroke="#000" stroke-width="1.5" />
<polyline points="123.30,1621.60 126.90,1625.20 123.30,1628.80" fill="none" stroke="#000" stroke-width="1.5" stroke-linejoin="miter"/>
<text x="159.20" y="1629.40" font-size="11.5" text-anchor="middle" fill="#000" stroke="#000" >PBS</text>
<text x="199.50" y="1629.40" font-size="11.5" text-anchor="middle" fill="#000" stroke="#000" >mRNA-</text>
<text x="199.50" y="1642.70" font-size="11.5" text-anchor="middle" fill="#000" stroke="#000" >native</text>
<text x="259.30" y="1629.40" font-size="11.5" text-anchor="middle" fill="#000" stroke="#000" >mRNA-</text>
<text x="259.30" y="1642.70" font-size="11.5" text-anchor="middle" fill="#000" stroke="#000" >VLP</text>
<line x1="158.80" y1="1372.00" x2="280.00" y2="1372.00" stroke="#000" stroke-width="2.4" />
<text x="219.40" y="1370.90" font-size="10.7" text-anchor="middle" fill="#000" stroke="#000" >*</text>
<line x1="158.80" y1="1384.70" x2="239.00" y2="1384.70" stroke="#000" stroke-width="2.4" />
<text x="198.90" y="1383.60" font-size="10.7" text-anchor="middle" fill="#000" stroke="#000" >****</text>
<line x1="158.80" y1="1397.50" x2="198.90" y2="1397.50" stroke="#000" stroke-width="2.2" />
<text x="178.60" y="1393.60" font-size="11.8" text-anchor="middle" fill="#000" stroke="#000" font-style="italic" >ns</text>
<text x="553.70" y="1351.80" font-size="12.8" text-anchor="middle" fill="#000" stroke="#000" >Day 7 post virus challenge</text>
<rect x="490.70" y="1471.90" width="31.80" height="108.20" fill="#7f7f7f"/>
<rect x="531.00" y="1552.20" width="31.80" height="27.90" fill="#ef8a7e"/>
<rect x="571.00" y="1558.60" width="31.80" height="21.50" fill="#8398fa"/>
<rect x="611.10" y="1558.60" width="31.80" height="21.50" fill="#bcc2fb"/>
<line x1="474.70" y1="1394.80" x2="474.70" y2="1581.10" stroke="#000" stroke-width="2.1" />
<line x1="473.70" y1="1580.10" x2="658.80" y2="1580.10" stroke="#000" stroke-width="2.1" />
<line x1="468.40" y1="1395.80" x2="474.70" y2="1395.80" stroke="#000" stroke-width="2.0" />
<text x="461.90" y="1399.70" font-size="10.3" text-anchor="end" stroke="#000">10<tspan dy="-3.3" font-size="7.93">12</tspan></text>
<line x1="468.40" y1="1429.44" x2="474.70" y2="1429.44" stroke="#000" stroke-width="2.0" />
<text x="461.90" y="1433.34" font-size="10.3" text-anchor="end" stroke="#000">10<tspan dy="-3.3" font-size="7.93">10</tspan></text>
<line x1="468.40" y1="1463.08" x2="474.70" y2="1463.08" stroke="#000" stroke-width="2.0" />
<text x="461.90" y="1466.98" font-size="10.3" text-anchor="end" stroke="#000">10<tspan dy="-3.3" font-size="7.93">8</tspan></text>
<line x1="468.40" y1="1496.72" x2="474.70" y2="1496.72" stroke="#000" stroke-width="2.0" />
<text x="461.90" y="1500.62" font-size="10.3" text-anchor="end" stroke="#000">10<tspan dy="-3.3" font-size="7.93">6</tspan></text>
<line x1="468.40" y1="1530.36" x2="474.70" y2="1530.36" stroke="#000" stroke-width="2.0" />
<text x="461.90" y="1534.26" font-size="10.3" text-anchor="end" stroke="#000">10<tspan dy="-3.3" font-size="7.93">4</tspan></text>
<line x1="468.40" y1="1564.00" x2="474.70" y2="1564.00" stroke="#000" stroke-width="2.0" />
<text x="461.90" y="1567.90" font-size="10.3" text-anchor="end" stroke="#000">10<tspan dy="-3.3" font-size="7.93">2</tspan></text>
<line x1="506.60" y1="1580.10" x2="506.60" y2="1586.60" stroke="#000" stroke-width="2.0" />
<line x1="546.90" y1="1580.10" x2="546.90" y2="1586.60" stroke="#000" stroke-width="2.0" />
<line x1="586.90" y1="1580.10" x2="586.90" y2="1586.60" stroke="#000" stroke-width="2.0" />
<line x1="627.00" y1="1580.10" x2="627.00" y2="1586.60" stroke="#000" stroke-width="2.0" />
<line x1="468.40" y1="1558.60" x2="474.70" y2="1558.60" stroke="#000" stroke-width="2.0" />
<line x1="475.70" y1="1558.60" x2="658.20" y2="1558.60" stroke="#222" stroke-width="1.1" stroke-dasharray="1.3,1.2"/>
<text x="659.30" y="1562.60" font-size="10.2" text-anchor="start" fill="#000" stroke="#000" >LLD</text>
<text transform="translate(437.10,1489.20) rotate(-90)" font-size="12.8" text-anchor="middle" stroke="#000">Viral sgRNA (copies/g)</text>
<line x1="506.60" y1="1462.30" x2="506.60" y2="1471.90" stroke="#7a7a7a" stroke-width="1.3"  stroke-opacity="0.42"/>
<line x1="498.60" y1="1462.30" x2="514.60" y2="1462.30" stroke="#7a7a7a" stroke-width="1.3"  stroke-opacity="0.42"/>
<line x1="546.90" y1="1532.30" x2="546.90" y2="1571.40" stroke="#7a7a7a" stroke-width="1.3"  stroke-opacity="0.42"/>
<line x1="538.90" y1="1532.30" x2="554.90" y2="1532.30" stroke="#7a7a7a" stroke-width="1.3"  stroke-opacity="0.42"/>
<line x1="538.90" y1="1571.40" x2="554.90" y2="1571.40" stroke="#7a7a7a" stroke-width="1.3"  stroke-opacity="0.42"/>
<line x1="627.00" y1="1551.20" x2="627.00" y2="1561.80" stroke="#7a7a7a" stroke-width="1.3"  stroke-opacity="0.42"/>
<line x1="619.00" y1="1551.20" x2="635.00" y2="1551.20" stroke="#7a7a7a" stroke-width="1.3"  stroke-opacity="0.42"/>
<line x1="619.00" y1="1561.80" x2="635.00" y2="1561.80" stroke="#7a7a7a" stroke-width="1.3"  stroke-opacity="0.42"/>
<circle cx="506.50" cy="1454.90" r="2.45" fill="#000"/>
<circle cx="502.00" cy="1470.30" r="2.45" fill="#000"/>
<circle cx="511.30" cy="1468.70" r="2.45" fill="#000"/>
<circle cx="506.50" cy="1464.50" r="2.45" fill="#000"/>
<circle cx="493.30" cy="1481.50" r="2.45" fill="#000"/>
<circle cx="502.00" cy="1477.30" r="2.45" fill="#000"/>
<circle cx="511.30" cy="1481.50" r="2.45" fill="#000"/>
<circle cx="520.30" cy="1479.00" r="2.45" fill="#000"/>
<circle cx="546.60" cy="1503.00" r="2.45" fill="#000"/>
<circle cx="533.40" cy="1558.60" r="2.45" fill="#000"/>
<circle cx="538.10" cy="1558.60" r="2.45" fill="#000"/>
<circle cx="542.80" cy="1558.60" r="2.45" fill="#000"/>
<circle cx="547.50" cy="1558.60" r="2.45" fill="#000"/>
<circle cx="552.20" cy="1558.60" r="2.45" fill="#000"/>
<circle cx="556.90" cy="1558.60" r="2.45" fill="#000"/>
<circle cx="561.60" cy="1558.60" r="2.45" fill="#000"/>
<circle cx="572.80" cy="1558.60" r="2.45" fill="#000"/>
<circle cx="576.87" cy="1558.60" r="2.45" fill="#000"/>
<circle cx="580.94" cy="1558.60" r="2.45" fill="#000"/>
<circle cx="585.01" cy="1558.60" r="2.45" fill="#000"/>
<circle cx="589.08" cy="1558.60" r="2.45" fill="#000"/>
<circle cx="593.15" cy="1558.60" r="2.45" fill="#000"/>
<circle cx="597.22" cy="1558.60" r="2.45" fill="#000"/>
<circle cx="601.29" cy="1558.60" r="2.45" fill="#000"/>
<circle cx="613.60" cy="1558.60" r="2.45" fill="#000"/>
<circle cx="618.22" cy="1558.60" r="2.45" fill="#000"/>
<circle cx="622.84" cy="1558.60" r="2.45" fill="#000"/>
<circle cx="627.46" cy="1558.60" r="2.45" fill="#000"/>
<circle cx="632.08" cy="1558.60" r="2.45" fill="#000"/>
<circle cx="636.70" cy="1558.60" r="2.45" fill="#000"/>
<circle cx="641.32" cy="1558.60" r="2.45" fill="#000"/>
<circle cx="627.20" cy="1543.20" r="2.45" fill="#000"/>
<text x="461.00" y="1601.20" font-size="11.55" text-anchor="end" fill="#000" stroke="#000" >mRNA/LNP dose (µg)</text>
<line x1="465.20" y1="1597.00" x2="473.80" y2="1597.00" stroke="#000" stroke-width="1.5" />
<polyline points="470.70,1593.40 474.30,1597.00 470.70,1600.60" fill="none" stroke="#000" stroke-width="1.5" stroke-linejoin="miter"/>
<text x="546.90" y="1601.20" font-size="11.5" text-anchor="middle" fill="#000" stroke="#000" >10</text>
<text x="586.90" y="1601.20" font-size="11.5" text-anchor="middle" fill="#000" stroke="#000" >10</text>
<text x="627.00" y="1601.20" font-size="11.5" text-anchor="middle" fill="#000" stroke="#000" >2</text>
<polyline points="571.40,1606.00 571.40,1613.90 645.00,1613.90 645.00,1606.00" fill="none" stroke="#000" stroke-width="2.4" stroke-linejoin="miter"/>
<text x="464.20" y="1629.40" font-size="11.55" text-anchor="end" fill="#000" stroke="#000" >mRNA vaccine</text>
<line x1="465.20" y1="1625.20" x2="473.80" y2="1625.20" stroke="#000" stroke-width="1.5" />
<polyline points="470.70,1621.60 474.30,1625.20 470.70,1628.80" fill="none" stroke="#000" stroke-width="1.5" stroke-linejoin="miter"/>
<text x="506.60" y="1629.40" font-size="11.5" text-anchor="middle" fill="#000" stroke="#000" >PBS</text>
<text x="546.90" y="1629.40" font-size="11.5" text-anchor="middle" fill="#000" stroke="#000" >mRNA-</text>
<text x="546.90" y="1642.70" font-size="11.5" text-anchor="middle" fill="#000" stroke="#000" >native</text>
<text x="606.70" y="1629.40" font-size="11.5" text-anchor="middle" fill="#000" stroke="#000" >mRNA-</text>
<text x="606.70" y="1642.70" font-size="11.5" text-anchor="middle" fill="#000" stroke="#000" >VLP</text>
<line x1="506.50" y1="1415.70" x2="627.20" y2="1415.70" stroke="#000" stroke-width="2.4" />
<text x="566.85" y="1414.60" font-size="10.7" text-anchor="middle" fill="#000" stroke="#000" >***</text>
<line x1="506.50" y1="1428.90" x2="586.80" y2="1428.90" stroke="#000" stroke-width="2.4" />
<text x="546.65" y="1427.80" font-size="10.7" text-anchor="middle" fill="#000" stroke="#000" >****</text>
<line x1="506.50" y1="1441.40" x2="546.60" y2="1441.40" stroke="#000" stroke-width="2.4" />
<text x="526.55" y="1440.30" font-size="10.7" text-anchor="middle" fill="#000" stroke="#000" >***</text>
</svg></body></html>
